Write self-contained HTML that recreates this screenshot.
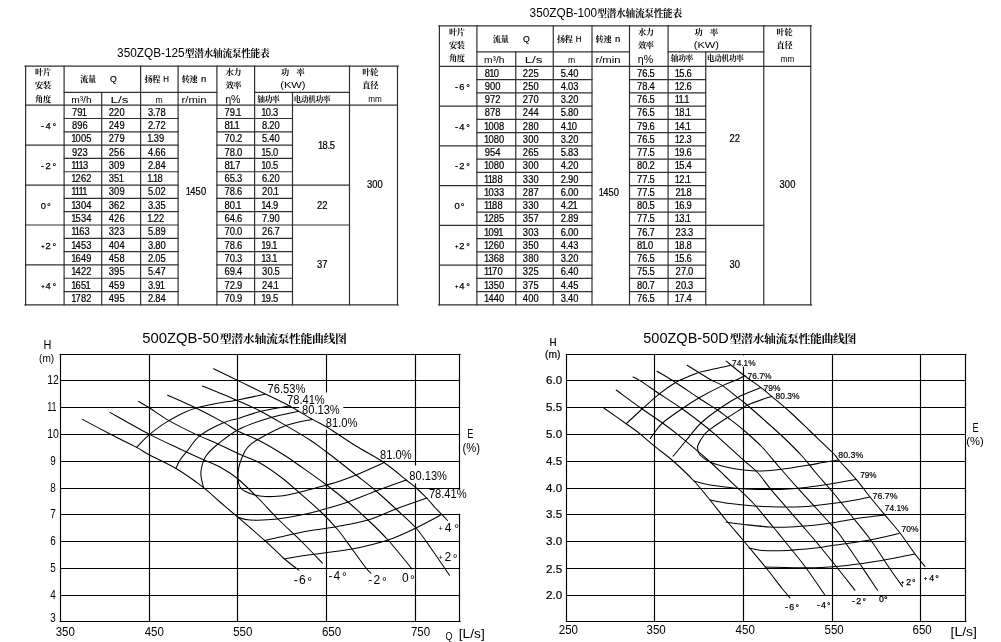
<!DOCTYPE html>
<html lang="zh"><head><meta charset="utf-8"><title>潜水轴流泵性能表</title>
<style>html,body{margin:0;padding:0;background:#fff}svg{display:block}</style></head>
<body><svg width="1001" height="642" viewBox="0 0 1001 642">
<rect width="1001" height="642" fill="#fff"/>
<g fill="none" stroke-linecap="round">
<path d="M24.9 66.2L398.2 66.2" stroke="#303030" stroke-width="1.2"/>
<path d="M24.9 304.9L398.2 304.9" stroke="#303030" stroke-width="1.2"/>
<path d="M25.6 66.2L25.6 304.9" stroke="#303030" stroke-width="1.2"/>
<path d="M397.5 66.2L397.5 304.9" stroke="#303030" stroke-width="1.2"/>
<path d="M64.1 66.2L64.1 304.9" stroke="#303030" stroke-width="1.2"/>
<path d="M140.6 66.2L140.6 304.9" stroke="#303030" stroke-width="1.2"/>
<path d="M178.1 66.2L178.1 304.9" stroke="#303030" stroke-width="1.2"/>
<path d="M216.9 66.2L216.9 304.9" stroke="#303030" stroke-width="1.2"/>
<path d="M254.6 66.2L254.6 304.9" stroke="#303030" stroke-width="1.2"/>
<path d="M349.5 66.2L349.5 304.9" stroke="#303030" stroke-width="1.2"/>
<path d="M101.7 92.3L101.7 304.9" stroke="#303030" stroke-width="1.2"/>
<path d="M292.5 92.3L292.5 304.9" stroke="#303030" stroke-width="1.2"/>
<path d="M64.1 92.3L216.9 92.3" stroke="#303030" stroke-width="1.2"/>
<path d="M254.6 92.3L349.5 92.3" stroke="#303030" stroke-width="1.2"/>
<path d="M25.6 105.2L397.5 105.2" stroke="#303030" stroke-width="1.2"/>
<path d="M64.1 118.51L178.1 118.51" stroke="#303030" stroke-width="1.2"/>
<path d="M216.9 118.51L292.5 118.51" stroke="#303030" stroke-width="1.2"/>
<path d="M64.1 131.83L178.1 131.83" stroke="#303030" stroke-width="1.2"/>
<path d="M216.9 131.83L292.5 131.83" stroke="#303030" stroke-width="1.2"/>
<path d="M64.1 145.14L178.1 145.14" stroke="#303030" stroke-width="1.2"/>
<path d="M216.9 145.14L292.5 145.14" stroke="#303030" stroke-width="1.2"/>
<path d="M25.6 145.14L64.1 145.14" stroke="#303030" stroke-width="1.2"/>
<path d="M64.1 158.45L178.1 158.45" stroke="#303030" stroke-width="1.2"/>
<path d="M216.9 158.45L292.5 158.45" stroke="#303030" stroke-width="1.2"/>
<path d="M64.1 171.77L178.1 171.77" stroke="#303030" stroke-width="1.2"/>
<path d="M216.9 171.77L292.5 171.77" stroke="#303030" stroke-width="1.2"/>
<path d="M64.1 185.08L178.1 185.08" stroke="#303030" stroke-width="1.2"/>
<path d="M216.9 185.08L292.5 185.08" stroke="#303030" stroke-width="1.2"/>
<path d="M25.6 185.08L64.1 185.08" stroke="#303030" stroke-width="1.2"/>
<path d="M292.5 185.08L349.5 185.08" stroke="#303030" stroke-width="1.2"/>
<path d="M64.1 198.39L178.1 198.39" stroke="#303030" stroke-width="1.2"/>
<path d="M216.9 198.39L292.5 198.39" stroke="#303030" stroke-width="1.2"/>
<path d="M64.1 211.71L178.1 211.71" stroke="#303030" stroke-width="1.2"/>
<path d="M216.9 211.71L292.5 211.71" stroke="#303030" stroke-width="1.2"/>
<path d="M64.1 225.02L178.1 225.02" stroke="#303030" stroke-width="1.2"/>
<path d="M216.9 225.02L292.5 225.02" stroke="#303030" stroke-width="1.2"/>
<path d="M25.6 225.02L64.1 225.02" stroke="#303030" stroke-width="1.2"/>
<path d="M292.5 225.02L349.5 225.02" stroke="#303030" stroke-width="1.2"/>
<path d="M64.1 238.33L178.1 238.33" stroke="#303030" stroke-width="1.2"/>
<path d="M216.9 238.33L292.5 238.33" stroke="#303030" stroke-width="1.2"/>
<path d="M64.1 251.65L178.1 251.65" stroke="#303030" stroke-width="1.2"/>
<path d="M216.9 251.65L292.5 251.65" stroke="#303030" stroke-width="1.2"/>
<path d="M64.1 264.96L178.1 264.96" stroke="#303030" stroke-width="1.2"/>
<path d="M216.9 264.96L292.5 264.96" stroke="#303030" stroke-width="1.2"/>
<path d="M25.6 264.96L64.1 264.96" stroke="#303030" stroke-width="1.2"/>
<path d="M64.1 278.27L178.1 278.27" stroke="#303030" stroke-width="1.2"/>
<path d="M216.9 278.27L292.5 278.27" stroke="#303030" stroke-width="1.2"/>
<path d="M64.1 291.59L178.1 291.59" stroke="#303030" stroke-width="1.2"/>
<path d="M216.9 291.59L292.5 291.59" stroke="#303030" stroke-width="1.2"/>
<path d="M438.7 25.85L811.45 25.85" stroke="#303030" stroke-width="1.2"/>
<path d="M438.7 304.9L811.45 304.9" stroke="#303030" stroke-width="1.2"/>
<path d="M439.4 25.85L439.4 304.9" stroke="#303030" stroke-width="1.2"/>
<path d="M810.75 25.85L810.75 304.9" stroke="#303030" stroke-width="1.2"/>
<path d="M476.9 25.85L476.9 304.9" stroke="#303030" stroke-width="1.2"/>
<path d="M553.25 25.85L553.25 304.9" stroke="#303030" stroke-width="1.2"/>
<path d="M592 25.85L592 304.9" stroke="#303030" stroke-width="1.2"/>
<path d="M629.5 25.85L629.5 304.9" stroke="#303030" stroke-width="1.2"/>
<path d="M668.1 25.85L668.1 304.9" stroke="#303030" stroke-width="1.2"/>
<path d="M763.75 25.85L763.75 304.9" stroke="#303030" stroke-width="1.2"/>
<path d="M515.75 51.9L515.75 304.9" stroke="#303030" stroke-width="1.2"/>
<path d="M705.75 51.9L705.75 304.9" stroke="#303030" stroke-width="1.2"/>
<path d="M476.9 51.9L629.5 51.9" stroke="#303030" stroke-width="1.2"/>
<path d="M668.1 51.9L763.75 51.9" stroke="#303030" stroke-width="1.2"/>
<path d="M439.4 66.3L810.75 66.3" stroke="#303030" stroke-width="1.2"/>
<path d="M476.9 79.56L592 79.56" stroke="#303030" stroke-width="1.2"/>
<path d="M629.5 79.56L705.75 79.56" stroke="#303030" stroke-width="1.2"/>
<path d="M476.9 92.81L592 92.81" stroke="#303030" stroke-width="1.2"/>
<path d="M629.5 92.81L705.75 92.81" stroke="#303030" stroke-width="1.2"/>
<path d="M476.9 106.07L592 106.07" stroke="#303030" stroke-width="1.2"/>
<path d="M629.5 106.07L705.75 106.07" stroke="#303030" stroke-width="1.2"/>
<path d="M439.4 106.07L476.9 106.07" stroke="#303030" stroke-width="1.2"/>
<path d="M476.9 119.32L592 119.32" stroke="#303030" stroke-width="1.2"/>
<path d="M629.5 119.32L705.75 119.32" stroke="#303030" stroke-width="1.2"/>
<path d="M476.9 132.58L592 132.58" stroke="#303030" stroke-width="1.2"/>
<path d="M629.5 132.58L705.75 132.58" stroke="#303030" stroke-width="1.2"/>
<path d="M476.9 145.83L592 145.83" stroke="#303030" stroke-width="1.2"/>
<path d="M629.5 145.83L705.75 145.83" stroke="#303030" stroke-width="1.2"/>
<path d="M439.4 145.83L476.9 145.83" stroke="#303030" stroke-width="1.2"/>
<path d="M476.9 159.09L592 159.09" stroke="#303030" stroke-width="1.2"/>
<path d="M629.5 159.09L705.75 159.09" stroke="#303030" stroke-width="1.2"/>
<path d="M476.9 172.34L592 172.34" stroke="#303030" stroke-width="1.2"/>
<path d="M629.5 172.34L705.75 172.34" stroke="#303030" stroke-width="1.2"/>
<path d="M476.9 185.6L592 185.6" stroke="#303030" stroke-width="1.2"/>
<path d="M629.5 185.6L705.75 185.6" stroke="#303030" stroke-width="1.2"/>
<path d="M439.4 185.6L476.9 185.6" stroke="#303030" stroke-width="1.2"/>
<path d="M476.9 198.86L592 198.86" stroke="#303030" stroke-width="1.2"/>
<path d="M629.5 198.86L705.75 198.86" stroke="#303030" stroke-width="1.2"/>
<path d="M476.9 212.11L592 212.11" stroke="#303030" stroke-width="1.2"/>
<path d="M629.5 212.11L705.75 212.11" stroke="#303030" stroke-width="1.2"/>
<path d="M476.9 225.37L592 225.37" stroke="#303030" stroke-width="1.2"/>
<path d="M629.5 225.37L705.75 225.37" stroke="#303030" stroke-width="1.2"/>
<path d="M439.4 225.37L476.9 225.37" stroke="#303030" stroke-width="1.2"/>
<path d="M705.75 225.37L763.75 225.37" stroke="#303030" stroke-width="1.2"/>
<path d="M476.9 238.62L592 238.62" stroke="#303030" stroke-width="1.2"/>
<path d="M629.5 238.62L705.75 238.62" stroke="#303030" stroke-width="1.2"/>
<path d="M476.9 251.88L592 251.88" stroke="#303030" stroke-width="1.2"/>
<path d="M629.5 251.88L705.75 251.88" stroke="#303030" stroke-width="1.2"/>
<path d="M476.9 265.13L592 265.13" stroke="#303030" stroke-width="1.2"/>
<path d="M629.5 265.13L705.75 265.13" stroke="#303030" stroke-width="1.2"/>
<path d="M439.4 265.13L476.9 265.13" stroke="#303030" stroke-width="1.2"/>
<path d="M476.9 278.39L592 278.39" stroke="#303030" stroke-width="1.2"/>
<path d="M629.5 278.39L705.75 278.39" stroke="#303030" stroke-width="1.2"/>
<path d="M476.9 291.64L592 291.64" stroke="#303030" stroke-width="1.2"/>
<path d="M629.5 291.64L705.75 291.64" stroke="#303030" stroke-width="1.2"/>
<path d="M60 354.5L460.2 354.5" stroke="#000" stroke-width="1.15"/>
<path d="M60 621.5L460.2 621.5" stroke="#000" stroke-width="1.15"/>
<path d="M60.5 354.4L60.5 621.5" stroke="#000" stroke-width="1.15"/>
<path d="M459.5 354.4L459.5 488.9" stroke="#000" stroke-width="1.15"/>
<path d="M459.5 514L459.5 621.5" stroke="#000" stroke-width="1.15"/>
<path d="M149.5 354.4L149.5 621.5" stroke="#000" stroke-width="1.15"/>
<path d="M237.5 354.4L237.5 621.5" stroke="#000" stroke-width="1.15"/>
<path d="M326.5 354.4L326.5 391.9" stroke="#000" stroke-width="1.15"/>
<path d="M326.5 430L326.5 621.5" stroke="#000" stroke-width="1.15"/>
<path d="M415.5 354.4L415.5 465" stroke="#000" stroke-width="1.15"/>
<path d="M415.5 483.75L415.5 621.5" stroke="#000" stroke-width="1.15"/>
<path d="M60.5 380.5L459.7 380.5" stroke="#000" stroke-width="1.15"/>
<path d="M60.5 407.5L298.75 407.5" stroke="#000" stroke-width="1.15"/>
<path d="M343.75 407.5L459.7 407.5" stroke="#000" stroke-width="1.15"/>
<path d="M60.5 434.5L459.7 434.5" stroke="#000" stroke-width="1.15"/>
<path d="M60.5 461.5L459.7 461.5" stroke="#000" stroke-width="1.15"/>
<path d="M60.5 488.5L459.7 488.5" stroke="#000" stroke-width="1.15"/>
<path d="M60.5 514.5L459.7 514.5" stroke="#000" stroke-width="1.15"/>
<path d="M60.5 541.5L459.7 541.5" stroke="#000" stroke-width="1.15"/>
<path d="M60.5 568.5L459.7 568.5" stroke="#000" stroke-width="1.15"/>
<path d="M60.5 595.5L459.7 595.5" stroke="#000" stroke-width="1.15"/>
<path d="M82.4 419.4C87.0 421.8 101.0 429.3 110.0 434.0C119.0 438.7 130.0 443.9 136.6 447.4C143.2 450.9 143.0 451.5 149.6 455.0C156.2 458.5 167.3 463.3 176.0 468.5C184.7 473.7 194.7 480.8 202.0 486.4C209.3 492.0 214.1 496.9 220.0 502.0C225.9 507.1 229.9 510.4 237.6 517.0C245.3 523.6 258.3 534.7 266.0 541.6C273.7 548.5 278.5 553.7 284.0 558.5C289.5 563.3 296.3 568.3 298.8 570.2" stroke="#000" stroke-width="1.05"/>
<path d="M110.0 412.4C116.6 416.1 137.9 428.3 149.6 434.4C161.3 440.5 170.9 444.7 180.0 449.0C189.1 453.3 197.3 457.0 204.0 460.0C210.7 463.0 214.3 463.8 220.0 467.0C225.7 470.2 231.7 473.8 238.0 479.0C244.3 484.2 251.3 491.3 258.0 498.0C264.7 504.7 270.7 511.7 278.0 519.0C285.3 526.3 294.6 534.6 302.0 542.0C309.4 549.4 319.1 559.7 322.5 563.2" stroke="#000" stroke-width="1.05"/>
<path d="M138.4 401.4C140.3 402.5 144.5 404.8 149.6 408.0C154.7 411.2 161.3 416.2 169.0 420.6C176.7 425.0 187.8 430.5 196.0 434.4C204.2 438.3 211.0 440.8 218.0 444.0C225.0 447.2 231.0 450.3 238.0 453.5C245.0 456.7 252.7 458.9 260.0 463.0C267.3 467.1 275.7 473.2 282.0 478.0C288.3 482.8 291.7 486.0 298.0 491.5C304.3 497.0 313.3 504.6 320.0 511.0C326.7 517.4 332.7 523.7 338.0 530.0C343.3 536.3 347.3 542.7 352.0 549.0C356.7 555.3 362.9 564.0 366.0 568.0C369.1 572.0 370.0 572.4 370.8 573.2" stroke="#000" stroke-width="1.05"/>
<path d="M167.6 395.2C172.3 397.3 186.6 403.4 196.0 408.0C205.4 412.6 217.1 418.8 224.0 422.6C230.9 426.4 231.6 427.9 237.6 431.0C243.6 434.1 252.3 437.0 260.0 441.0C267.7 445.0 277.3 450.8 284.0 455.0C290.7 459.2 292.9 461.0 300.0 466.0C307.1 471.0 318.6 479.0 326.6 485.0C334.6 491.0 341.1 496.2 348.0 502.0C354.9 507.8 361.3 513.7 368.0 520.0C374.7 526.3 381.3 532.7 388.0 540.0C394.7 547.3 404.0 559.2 408.0 564.0C412.0 568.8 411.1 568.2 411.8 569.0" stroke="#000" stroke-width="1.05"/>
<path d="M202.4 386.0C208.0 388.3 226.4 395.8 236.0 400.0C245.6 404.2 251.7 406.7 260.0 411.0C268.3 415.3 277.7 420.8 286.0 425.6C294.3 430.4 303.2 435.6 310.0 440.0C316.8 444.4 318.9 446.2 326.6 452.0C334.3 457.8 347.8 468.5 356.0 475.0C364.2 481.5 369.3 485.3 376.0 491.0C382.7 496.7 389.3 502.8 396.0 509.0C402.7 515.2 409.9 521.1 416.0 528.0C422.1 534.9 426.9 542.6 432.5 550.5C438.1 558.4 446.7 571.1 449.5 575.2" stroke="#000" stroke-width="1.05"/>
<path d="M213.6 368.8C217.6 370.7 229.0 376.2 237.6 380.4C246.2 384.6 256.3 389.4 265.0 393.8C273.7 398.1 282.1 402.0 290.0 406.2C297.9 410.5 306.2 415.9 312.5 419.4C318.8 422.9 320.2 423.1 327.5 427.5C334.8 431.9 346.6 440.2 356.0 446.0C365.4 451.8 375.6 456.8 384.0 462.5C392.4 468.2 401.0 475.8 406.2 480.0C411.5 484.2 412.3 484.6 415.6 487.5C418.9 490.4 423.0 494.2 426.2 497.5C429.5 500.8 432.4 504.6 435.0 507.5C437.6 510.4 439.9 512.4 442.0 514.6C444.1 516.8 446.6 519.5 447.5 520.5" stroke="#000" stroke-width="1.05"/>
<path d="M265.0 394.2C260.8 395.1 251.5 397.1 240.0 399.4C228.5 401.7 207.8 404.5 196.0 408.0C184.2 411.5 176.7 416.2 169.0 420.6C161.3 425.0 155.0 429.9 149.6 434.4C144.2 438.9 138.8 445.2 136.6 447.4" stroke="#000" stroke-width="1.05"/>
<path d="M284.5 559.0C288.4 558.3 296.8 556.7 308.0 555.0C319.2 553.3 338.7 551.5 352.0 549.0C365.3 546.5 377.3 543.5 388.0 540.0C398.7 536.5 407.0 532.3 416.0 528.0C425.0 523.7 437.7 516.7 442.0 514.4" stroke="#000" stroke-width="1.05"/>
<path d="M290.0 405.8C285.0 406.8 268.3 409.5 260.0 411.5C251.7 413.5 246.0 416.1 240.0 418.0C234.0 419.9 230.7 419.7 224.0 422.6C217.3 425.5 206.0 431.0 200.0 435.6C194.0 440.2 191.3 445.9 188.0 450.0C184.7 454.1 182.0 456.9 180.0 460.0C178.0 463.1 176.7 467.1 176.0 468.5" stroke="#000" stroke-width="1.05"/>
<path d="M264.5 540.5C267.1 539.9 272.8 538.6 280.0 537.0C287.2 535.4 298.3 532.8 308.0 531.0C317.7 529.2 328.0 528.2 338.0 526.4C348.0 524.6 358.3 522.9 368.0 520.0C377.7 517.1 386.2 512.7 396.0 509.0C405.8 505.3 421.8 499.8 427.0 498.0" stroke="#000" stroke-width="1.05"/>
<path d="M298.8 411.2C294.1 412.3 280.8 414.6 271.0 417.5C261.2 420.4 248.8 424.3 240.0 428.8C231.2 433.2 223.7 439.5 218.0 444.0C212.3 448.5 208.8 452.0 206.0 456.0C203.2 460.0 202.3 464.7 201.5 468.0C200.7 471.3 200.7 472.8 201.0 476.0C201.3 479.2 203.1 485.6 203.5 487.5" stroke="#000" stroke-width="1.05"/>
<path d="M237.6 517.0C239.7 517.5 243.3 519.7 250.0 520.0C256.7 520.3 268.7 520.0 278.0 519.0C287.3 518.0 299.0 515.4 306.0 514.0C313.0 512.6 313.0 512.4 320.0 510.4C327.0 508.4 338.7 505.2 348.0 502.0C357.3 498.8 366.3 494.7 376.0 491.0C385.7 487.3 401.2 481.8 406.2 480.0" stroke="#000" stroke-width="1.05"/>
<path d="M312.5 419.4C308.1 420.4 295.3 422.2 286.0 425.6C276.7 429.0 263.3 436.4 256.9 440.0C250.5 443.6 249.9 444.8 247.5 447.5C245.1 450.2 243.8 453.3 242.5 456.2C241.2 459.2 240.1 462.3 239.4 465.0C238.7 467.7 238.2 469.6 238.1 472.5C237.9 475.4 238.1 480.0 238.5 482.5C238.9 485.0 239.2 486.0 240.3 487.5C241.4 489.0 242.6 490.0 245.0 491.2C247.4 492.5 251.7 494.1 255.0 495.0C258.3 495.9 261.2 496.3 265.0 496.5C268.8 496.7 273.3 496.6 277.5 496.2C281.7 495.9 284.9 495.4 290.0 494.4C295.1 493.4 301.9 491.6 308.0 490.0C314.1 488.4 321.3 486.5 326.6 485.0C331.9 483.5 335.1 482.7 340.0 481.0C344.9 479.3 348.7 478.1 356.0 475.0C363.3 471.9 379.3 464.7 384.0 462.6" stroke="#000" stroke-width="1.05"/>
<path d="M566.25 354.5L966 354.5" stroke="#000" stroke-width="1.15"/>
<path d="M566.25 621.5L966 621.5" stroke="#000" stroke-width="1.15"/>
<path d="M566.5 354.4L566.5 621.5" stroke="#000" stroke-width="1.15"/>
<path d="M965.5 354.4L965.5 621.5" stroke="#000" stroke-width="1.15"/>
<path d="M654.5 354.4L654.5 621.5" stroke="#000" stroke-width="1.15"/>
<path d="M743.5 354.4L743.5 354.9" stroke="#000" stroke-width="1.15"/>
<path d="M743.5 367L743.5 621.5" stroke="#000" stroke-width="1.15"/>
<path d="M832.5 354.4L832.5 621.5" stroke="#000" stroke-width="1.15"/>
<path d="M920.5 354.4L920.5 621.5" stroke="#000" stroke-width="1.15"/>
<path d="M566.75 380.5L965.5 380.5" stroke="#000" stroke-width="1.15"/>
<path d="M566.75 407.5L965.5 407.5" stroke="#000" stroke-width="1.15"/>
<path d="M566.75 434.5L965.5 434.5" stroke="#000" stroke-width="1.15"/>
<path d="M566.75 461.5L965.5 461.5" stroke="#000" stroke-width="1.15"/>
<path d="M566.75 488.5L965.5 488.5" stroke="#000" stroke-width="1.15"/>
<path d="M566.75 514.5L965.5 514.5" stroke="#000" stroke-width="1.15"/>
<path d="M566.75 541.5L965.5 541.5" stroke="#000" stroke-width="1.15"/>
<path d="M566.75 568.5L965.5 568.5" stroke="#000" stroke-width="1.15"/>
<path d="M566.75 595.5L965.5 595.5" stroke="#000" stroke-width="1.15"/>
<path d="M603.8 408.0C607.5 410.6 620.2 419.5 626.2 423.8C632.3 428.0 635.3 430.0 640.0 433.8C644.7 437.5 649.2 441.9 654.5 446.2C659.8 450.6 665.4 454.2 672.0 460.0C678.6 465.8 687.7 474.3 694.0 481.0C700.3 487.7 704.7 493.5 710.0 500.0C715.3 506.5 720.4 513.2 726.0 520.0C731.6 526.8 737.2 533.2 743.8 541.0C750.2 548.8 758.5 558.5 765.0 566.5C771.5 574.5 778.3 583.8 782.5 589.0C786.7 594.2 788.8 596.3 790.0 597.8" stroke="#000" stroke-width="1.05"/>
<path d="M616.2 390.0C620.2 392.9 632.3 402.0 640.0 407.5C647.7 413.0 656.2 418.5 662.5 423.0C668.8 427.5 669.9 428.2 677.5 434.4C685.1 440.6 699.9 452.9 708.0 460.0C716.1 467.1 721.0 472.3 726.0 477.0C731.0 481.7 733.3 483.9 738.0 488.4C742.7 492.9 748.0 497.4 754.0 504.0C760.0 510.6 769.2 522.2 774.0 528.0C778.8 533.8 777.3 532.1 782.5 538.5C787.7 544.9 797.9 557.0 805.0 566.5C812.1 576.0 821.7 590.5 825.0 595.2" stroke="#000" stroke-width="1.05"/>
<path d="M633.0 377.0C634.2 377.6 635.6 377.8 640.0 380.6C644.4 383.4 652.4 389.1 659.4 393.8C666.4 398.4 675.1 403.9 682.0 408.8C688.9 413.6 695.5 418.7 701.0 423.0C706.5 427.3 707.9 428.2 715.0 434.4C722.1 440.6 736.2 453.6 743.4 460.0C750.6 466.4 753.6 468.3 758.0 473.0C762.4 477.7 765.3 482.7 770.0 488.4C774.7 494.1 780.0 500.1 786.0 507.0C792.0 513.9 800.8 523.9 806.0 530.0C811.2 536.1 812.5 537.4 817.5 543.5C822.5 549.6 830.0 558.7 836.2 566.5C842.5 574.3 851.9 586.3 855.0 590.2" stroke="#000" stroke-width="1.05"/>
<path d="M657.0 371.2C660.1 373.1 668.6 378.0 675.6 382.5C682.6 387.0 691.8 393.4 698.8 398.0C705.7 402.6 712.7 406.8 717.5 410.0C722.3 413.2 723.2 414.2 727.5 417.5C731.8 420.8 737.8 425.1 743.5 430.0C749.2 434.9 755.9 440.7 762.0 447.0C768.1 453.3 774.0 461.1 780.0 468.0C786.0 474.9 792.0 481.7 798.0 488.4C804.0 495.1 810.3 501.7 816.0 508.0C821.7 514.3 828.4 521.5 832.4 526.0C836.4 530.5 835.4 528.7 840.0 535.0C844.6 541.3 853.8 554.8 860.0 564.0C866.2 573.2 874.6 585.9 877.5 590.2" stroke="#000" stroke-width="1.05"/>
<path d="M687.2 365.2C689.2 366.5 694.8 370.0 698.8 372.5C702.8 375.0 707.3 377.8 711.2 380.0C715.2 382.2 718.1 382.7 722.5 385.6C726.9 388.5 734.0 394.8 737.5 397.5C741.0 400.2 739.4 398.6 743.5 402.0C747.6 405.4 755.6 412.3 762.0 418.0C768.4 423.7 775.3 429.7 782.0 436.0C788.7 442.3 796.3 449.8 802.0 456.0C807.7 462.2 810.9 467.0 816.0 473.0C821.1 479.0 826.9 485.2 832.6 492.0C838.3 498.8 843.8 506.2 850.0 514.0C856.2 521.8 863.8 530.5 870.0 539.0C876.2 547.5 882.1 557.3 887.5 565.2C892.9 573.2 900.0 583.0 902.5 586.5" stroke="#000" stroke-width="1.05"/>
<path d="M726.2 361.2C729.1 363.5 737.7 370.6 743.5 375.0C749.3 379.4 756.2 384.0 761.0 387.6C765.8 391.2 767.2 392.5 772.0 396.6C776.8 400.7 783.7 406.3 790.0 412.0C796.3 417.7 802.9 424.2 810.0 431.0C817.1 437.8 827.7 447.7 832.5 452.5C837.3 457.3 834.8 455.5 838.8 460.0C842.7 464.5 851.0 473.2 856.2 479.4C861.5 485.6 865.3 491.2 870.0 497.0C874.7 502.8 879.4 508.4 884.4 514.4C889.4 520.4 894.9 526.4 900.0 533.0C905.1 539.6 910.8 548.4 915.0 554.0C919.2 559.6 923.3 564.4 925.0 566.5" stroke="#000" stroke-width="1.05"/>
<path d="M730.0 365.6C727.5 366.1 720.2 367.6 715.0 368.8C709.8 369.9 703.3 371.1 698.8 372.5C694.2 373.9 691.4 375.3 687.5 377.0C683.6 378.7 680.3 379.7 675.6 382.5C670.9 385.3 665.3 389.0 659.4 393.8C653.5 398.5 645.5 406.0 640.0 411.0C634.5 416.0 628.5 421.6 626.2 423.8" stroke="#000" stroke-width="1.05"/>
<path d="M726.0 522.0C728.9 522.4 736.1 523.6 743.4 524.4C750.7 525.2 762.2 526.6 770.0 527.0C777.8 527.4 782.3 527.3 790.0 527.0C797.7 526.7 808.9 525.7 816.0 525.0C823.1 524.3 825.2 524.0 832.5 522.8C839.8 521.6 851.2 519.3 860.0 518.0C868.8 516.7 880.8 515.5 885.0 515.0" stroke="#000" stroke-width="1.05"/>
<path d="M745.0 375.6C743.8 376.2 741.2 377.7 737.5 379.4C733.8 381.1 729.0 382.5 722.5 385.6C716.0 388.7 705.5 394.1 698.8 398.0C692.0 401.9 688.0 404.6 682.0 408.8C676.0 412.9 667.1 419.0 662.5 423.0C657.9 427.0 656.5 430.2 654.5 432.8C652.5 435.4 651.0 437.6 650.3 438.5" stroke="#000" stroke-width="1.05"/>
<path d="M710.0 500.0C713.3 500.6 722.7 502.6 730.0 503.6C737.3 504.6 745.7 505.4 754.0 506.0C762.3 506.6 771.3 506.9 780.0 507.0C788.7 507.1 797.2 507.2 806.0 506.6C814.8 506.0 825.2 504.4 832.5 503.5C839.8 502.6 843.8 502.1 850.0 501.0C856.2 499.9 866.7 497.7 870.0 497.0" stroke="#000" stroke-width="1.05"/>
<path d="M761.0 387.6C757.1 389.2 744.8 393.8 737.5 397.5C730.2 401.2 723.6 405.8 717.5 410.0C711.4 414.2 705.4 418.9 701.0 423.0C696.6 427.1 694.5 430.2 691.0 434.4C687.5 438.6 683.0 444.4 680.0 448.0C677.0 451.6 674.2 454.9 673.0 456.2" stroke="#000" stroke-width="1.05"/>
<path d="M694.0 481.0C696.7 481.7 702.7 483.8 710.0 485.0C717.3 486.2 730.0 487.7 738.0 488.4C746.0 489.1 751.0 489.2 758.0 489.4C765.0 489.6 772.0 489.7 780.0 489.4C788.0 489.1 797.2 488.4 806.0 487.4C814.8 486.4 824.3 484.9 832.6 483.6C840.9 482.3 852.1 480.1 856.0 479.4" stroke="#000" stroke-width="1.05"/>
<path d="M772.0 396.6C770.8 396.9 769.1 397.1 765.0 398.5C760.9 399.9 751.1 403.5 747.5 405.0C743.9 406.5 746.8 405.4 743.5 407.5C740.2 409.6 733.1 413.9 727.5 417.5C721.9 421.1 713.9 426.5 710.0 429.4C706.1 432.3 705.8 432.7 704.0 435.0C702.2 437.3 700.1 440.8 699.0 443.0C697.9 445.2 697.3 446.0 697.5 448.0C697.7 450.0 697.9 452.7 700.0 455.0C702.1 457.3 705.7 460.0 710.0 462.0C714.3 464.0 720.4 465.7 726.0 467.0C731.6 468.3 737.4 469.3 743.4 470.0C749.4 470.7 755.9 471.1 762.0 471.0C768.1 470.9 772.7 470.5 780.0 469.6C787.3 468.7 798.3 466.9 806.0 465.6C813.7 464.3 820.5 462.9 826.0 462.0C831.5 461.1 836.6 460.3 838.8 460.0" stroke="#000" stroke-width="1.05"/>
<path d="M749.0 548.0C751.2 548.4 755.6 550.1 762.0 550.5C768.4 550.9 778.5 550.9 787.5 550.5C796.5 550.1 808.5 548.8 816.0 548.0C823.5 547.2 823.5 546.8 832.5 545.5C841.5 544.2 858.9 542.0 870.0 540.0C881.1 538.0 894.2 534.7 899.0 533.6" stroke="#000" stroke-width="1.05"/>
<path d="M765.0 567.0C771.7 567.1 793.1 567.8 805.0 567.8C816.9 567.7 824.6 567.5 836.2 566.5C847.9 565.5 861.9 563.6 875.0 561.5C888.1 559.4 908.3 555.2 915.0 554.0" stroke="#000" stroke-width="1.05"/>
</g>
<g>
<text x="117.10" y="56.70" font-family='"Liberation Sans", "Noto Sans CJK SC", sans-serif' font-size="12.6" textLength="67.50" lengthAdjust="spacingAndGlyphs" fill="#000">350ZQB-125</text>
<text x="184.80" y="57.20" font-family='"Liberation Serif", "Noto Serif CJK SC", serif' font-size="9.7" font-weight="700" letter-spacing="-0.29" fill="#000">型潜水轴流泵性能表</text>
<text x="35.10" y="75.30" font-family='"Liberation Serif", "Noto Serif CJK SC", serif' font-size="8.2" font-weight="700" letter-spacing="-0.40" fill="#000">叶片</text>
<text x="35.10" y="88.40" font-family='"Liberation Serif", "Noto Serif CJK SC", serif' font-size="8.2" font-weight="700" letter-spacing="-0.40" fill="#000">安装</text>
<text x="35.10" y="101.70" font-family='"Liberation Serif", "Noto Serif CJK SC", serif' font-size="8.2" font-weight="700" letter-spacing="-0.40" fill="#000">角度</text>
<text x="79.90" y="82.00" font-family='"Liberation Serif", "Noto Serif CJK SC", serif' font-size="8.2" font-weight="700" letter-spacing="-0.20" fill="#000">流量</text>
<text x="110.10" y="82.10" font-family='"Liberation Sans", "Noto Sans CJK SC", sans-serif' font-size="9" textLength="6.70" lengthAdjust="spacingAndGlyphs" fill="#000" stroke="#000" stroke-width="0.2">Q</text>
<text x="144.40" y="82.00" font-family='"Liberation Serif", "Noto Serif CJK SC", serif' font-size="8.2" font-weight="700" letter-spacing="-0.40" fill="#000">扬程</text>
<text x="163.20" y="82.20" font-family='"Liberation Sans", "Noto Sans CJK SC", sans-serif' font-size="9.6" textLength="5.70" lengthAdjust="spacingAndGlyphs" fill="#000" stroke="#000" stroke-width="0.2">H</text>
<text x="181.70" y="82.00" font-family='"Liberation Serif", "Noto Serif CJK SC", serif' font-size="8.2" font-weight="700" letter-spacing="-0.40" fill="#000">转速</text>
<text x="201.10" y="82.20" font-family='"Liberation Sans", "Noto Sans CJK SC", sans-serif' font-size="9.6" textLength="5.30" lengthAdjust="spacingAndGlyphs" fill="#000" stroke="#000" stroke-width="0.2">n</text>
<text x="71.20" y="103.00" font-family='"Liberation Sans", "Noto Sans CJK SC", sans-serif' font-size="9.6" textLength="20.40" lengthAdjust="spacingAndGlyphs" fill="#000">m³/h</text>
<text x="110.60" y="103.00" font-family='"Liberation Sans", "Noto Sans CJK SC", sans-serif' font-size="9.6" textLength="17.90" lengthAdjust="spacingAndGlyphs" fill="#000">L/s</text>
<text x="155.40" y="103.00" font-family='"Liberation Sans", "Noto Sans CJK SC", sans-serif' font-size="9.2" textLength="7.20" lengthAdjust="spacingAndGlyphs" fill="#000">m</text>
<text x="181.50" y="103.00" font-family='"Liberation Sans", "Noto Sans CJK SC", sans-serif' font-size="9.6" textLength="25.10" lengthAdjust="spacingAndGlyphs" fill="#000">r/min</text>
<text x="225.40" y="75.30" font-family='"Liberation Serif", "Noto Serif CJK SC", serif' font-size="8.2" font-weight="700" letter-spacing="-0.40" fill="#000">水力</text>
<text x="225.40" y="88.40" font-family='"Liberation Serif", "Noto Serif CJK SC", serif' font-size="8.2" font-weight="700" letter-spacing="-0.40" fill="#000">效率</text>
<text x="225.20" y="103.00" font-family='"Liberation Sans", "Noto Sans CJK SC", sans-serif' font-size="10" textLength="15.40" lengthAdjust="spacingAndGlyphs" fill="#000">η%</text>
<text x="281.10" y="75.30" font-family='"Liberation Serif", "Noto Serif CJK SC", serif' font-size="8.2" font-weight="700" letter-spacing="0.00" fill="#000">功</text>
<text x="296.40" y="75.30" font-family='"Liberation Serif", "Noto Serif CJK SC", serif' font-size="8.2" font-weight="700" letter-spacing="0.00" fill="#000">率</text>
<text x="280.20" y="88.10" font-family='"Liberation Sans", "Noto Sans CJK SC", sans-serif' font-size="8.2" textLength="25.40" lengthAdjust="spacingAndGlyphs" fill="#000">(KW)</text>
<text x="257.20" y="101.70" font-family='"Liberation Serif", "Noto Serif CJK SC", serif' font-size="7.7" font-weight="700" letter-spacing="-0.25" fill="#000">轴功率</text>
<text x="293.70" y="101.70" font-family='"Liberation Serif", "Noto Serif CJK SC", serif' font-size="7.5" font-weight="700" letter-spacing="-0.18" fill="#000">电动机功率</text>
<text x="362.30" y="75.30" font-family='"Liberation Serif", "Noto Serif CJK SC", serif' font-size="8.2" font-weight="700" letter-spacing="-0.20" fill="#000">叶轮</text>
<text x="362.30" y="88.40" font-family='"Liberation Serif", "Noto Serif CJK SC", serif' font-size="8.2" font-weight="700" letter-spacing="-0.20" fill="#000">直径</text>
<text x="368.30" y="102.40" font-family='"Liberation Sans", "Noto Sans CJK SC", sans-serif' font-size="8.4" textLength="13.50" lengthAdjust="spacingAndGlyphs" fill="#000">mm</text>
<text transform="translate(71.90 115.56) scale(0.92 1)" x="0.00 5.76 10.71" y="0" font-family='"Liberation Sans", "Noto Sans CJK SC", sans-serif' font-size="10.2" fill="#000" stroke="#000" stroke-width="0.22">791</text>
<text transform="translate(108.80 115.56) scale(0.92 1)" x="0.00 5.76 11.52" y="0" font-family='"Liberation Sans", "Noto Sans CJK SC", sans-serif' font-size="10.2" fill="#000" stroke="#000" stroke-width="0.22">220</text>
<text transform="translate(148.10 115.56) scale(0.92 1)" x="0.00 5.38 7.83 13.59" y="0" font-family='"Liberation Sans", "Noto Sans CJK SC", sans-serif' font-size="10.2" fill="#000" stroke="#000" stroke-width="0.22">3.78</text>
<text transform="translate(224.40 115.56) scale(0.92 1)" x="0.00 5.76 11.14 12.77" y="0" font-family='"Liberation Sans", "Noto Sans CJK SC", sans-serif' font-size="10.2" fill="#000" stroke="#000" stroke-width="0.22">79.1</text>
<text transform="translate(262.10 115.56) scale(0.92 1)" x="-0.82 4.02 9.40 11.85" y="0" font-family='"Liberation Sans", "Noto Sans CJK SC", sans-serif' font-size="10.2" fill="#000" stroke="#000" stroke-width="0.22">10.3</text>
<text transform="translate(71.90 128.87) scale(0.92 1)" x="0.00 5.76 11.52" y="0" font-family='"Liberation Sans", "Noto Sans CJK SC", sans-serif' font-size="10.2" fill="#000" stroke="#000" stroke-width="0.22">896</text>
<text transform="translate(108.80 128.87) scale(0.92 1)" x="0.00 5.76 11.52" y="0" font-family='"Liberation Sans", "Noto Sans CJK SC", sans-serif' font-size="10.2" fill="#000" stroke="#000" stroke-width="0.22">249</text>
<text transform="translate(148.10 128.87) scale(0.92 1)" x="0.00 5.38 7.83 13.59" y="0" font-family='"Liberation Sans", "Noto Sans CJK SC", sans-serif' font-size="10.2" fill="#000" stroke="#000" stroke-width="0.22">2.72</text>
<text transform="translate(224.40 128.87) scale(0.92 1)" x="0.00 4.95 9.40 11.03" y="0" font-family='"Liberation Sans", "Noto Sans CJK SC", sans-serif' font-size="10.2" fill="#000" stroke="#000" stroke-width="0.22">81.1</text>
<text transform="translate(262.10 128.87) scale(0.92 1)" x="0.00 5.38 7.83 13.59" y="0" font-family='"Liberation Sans", "Noto Sans CJK SC", sans-serif' font-size="10.2" fill="#000" stroke="#000" stroke-width="0.22">8.20</text>
<text transform="translate(71.90 142.18) scale(0.92 1)" x="-0.82 4.02 9.78 15.54" y="0" font-family='"Liberation Sans", "Noto Sans CJK SC", sans-serif' font-size="10.2" fill="#000" stroke="#000" stroke-width="0.22">1005</text>
<text transform="translate(108.80 142.18) scale(0.92 1)" x="0.00 5.76 11.52" y="0" font-family='"Liberation Sans", "Noto Sans CJK SC", sans-serif' font-size="10.2" fill="#000" stroke="#000" stroke-width="0.22">279</text>
<text transform="translate(148.10 142.18) scale(0.92 1)" x="-0.82 3.64 6.09 11.85" y="0" font-family='"Liberation Sans", "Noto Sans CJK SC", sans-serif' font-size="10.2" fill="#000" stroke="#000" stroke-width="0.22">1.39</text>
<text transform="translate(224.40 142.18) scale(0.92 1)" x="0.00 5.76 11.14 13.59" y="0" font-family='"Liberation Sans", "Noto Sans CJK SC", sans-serif' font-size="10.2" fill="#000" stroke="#000" stroke-width="0.22">70.2</text>
<text transform="translate(262.10 142.18) scale(0.92 1)" x="0.00 5.38 7.83 13.59" y="0" font-family='"Liberation Sans", "Noto Sans CJK SC", sans-serif' font-size="10.2" fill="#000" stroke="#000" stroke-width="0.22">5.40</text>
<text transform="translate(71.90 155.50) scale(0.92 1)" x="0.00 5.76 11.52" y="0" font-family='"Liberation Sans", "Noto Sans CJK SC", sans-serif' font-size="10.2" fill="#000" stroke="#000" stroke-width="0.22">923</text>
<text transform="translate(108.80 155.50) scale(0.92 1)" x="0.00 5.76 11.52" y="0" font-family='"Liberation Sans", "Noto Sans CJK SC", sans-serif' font-size="10.2" fill="#000" stroke="#000" stroke-width="0.22">256</text>
<text transform="translate(148.10 155.50) scale(0.92 1)" x="0.00 5.38 7.83 13.59" y="0" font-family='"Liberation Sans", "Noto Sans CJK SC", sans-serif' font-size="10.2" fill="#000" stroke="#000" stroke-width="0.22">4.66</text>
<text transform="translate(224.40 155.50) scale(0.92 1)" x="0.00 5.76 11.14 13.59" y="0" font-family='"Liberation Sans", "Noto Sans CJK SC", sans-serif' font-size="10.2" fill="#000" stroke="#000" stroke-width="0.22">78.0</text>
<text transform="translate(262.10 155.50) scale(0.92 1)" x="-0.82 4.02 9.40 11.85" y="0" font-family='"Liberation Sans", "Noto Sans CJK SC", sans-serif' font-size="10.2" fill="#000" stroke="#000" stroke-width="0.22">15.0</text>
<text transform="translate(71.90 168.81) scale(0.92 1)" x="-0.82 3.21 7.23 12.07" y="0" font-family='"Liberation Sans", "Noto Sans CJK SC", sans-serif' font-size="10.2" fill="#000" stroke="#000" stroke-width="0.22">1113</text>
<text transform="translate(108.80 168.81) scale(0.92 1)" x="0.00 5.76 11.52" y="0" font-family='"Liberation Sans", "Noto Sans CJK SC", sans-serif' font-size="10.2" fill="#000" stroke="#000" stroke-width="0.22">309</text>
<text transform="translate(148.10 168.81) scale(0.92 1)" x="0.00 5.38 7.83 13.59" y="0" font-family='"Liberation Sans", "Noto Sans CJK SC", sans-serif' font-size="10.2" fill="#000" stroke="#000" stroke-width="0.22">2.84</text>
<text transform="translate(224.40 168.81) scale(0.92 1)" x="0.00 4.95 9.40 11.85" y="0" font-family='"Liberation Sans", "Noto Sans CJK SC", sans-serif' font-size="10.2" fill="#000" stroke="#000" stroke-width="0.22">81.7</text>
<text transform="translate(262.10 168.81) scale(0.92 1)" x="-0.82 4.02 9.40 11.85" y="0" font-family='"Liberation Sans", "Noto Sans CJK SC", sans-serif' font-size="10.2" fill="#000" stroke="#000" stroke-width="0.22">10.5</text>
<text transform="translate(71.90 182.12) scale(0.92 1)" x="-0.82 4.02 9.78 15.54" y="0" font-family='"Liberation Sans", "Noto Sans CJK SC", sans-serif' font-size="10.2" fill="#000" stroke="#000" stroke-width="0.22">1262</text>
<text transform="translate(108.80 182.12) scale(0.92 1)" x="0.00 5.76 10.71" y="0" font-family='"Liberation Sans", "Noto Sans CJK SC", sans-serif' font-size="10.2" fill="#000" stroke="#000" stroke-width="0.22">351</text>
<text transform="translate(148.10 182.12) scale(0.92 1)" x="-0.82 3.64 5.27 10.11" y="0" font-family='"Liberation Sans", "Noto Sans CJK SC", sans-serif' font-size="10.2" fill="#000" stroke="#000" stroke-width="0.22">1.18</text>
<text transform="translate(224.40 182.12) scale(0.92 1)" x="0.00 5.76 11.14 13.59" y="0" font-family='"Liberation Sans", "Noto Sans CJK SC", sans-serif' font-size="10.2" fill="#000" stroke="#000" stroke-width="0.22">65.3</text>
<text transform="translate(262.10 182.12) scale(0.92 1)" x="0.00 5.38 7.83 13.59" y="0" font-family='"Liberation Sans", "Noto Sans CJK SC", sans-serif' font-size="10.2" fill="#000" stroke="#000" stroke-width="0.22">6.20</text>
<text transform="translate(71.90 195.44) scale(0.92 1)" x="-0.82 3.21 7.23 11.25" y="0" font-family='"Liberation Sans", "Noto Sans CJK SC", sans-serif' font-size="10.2" fill="#000" stroke="#000" stroke-width="0.22">1111</text>
<text transform="translate(108.80 195.44) scale(0.92 1)" x="0.00 5.76 11.52" y="0" font-family='"Liberation Sans", "Noto Sans CJK SC", sans-serif' font-size="10.2" fill="#000" stroke="#000" stroke-width="0.22">309</text>
<text transform="translate(148.10 195.44) scale(0.92 1)" x="0.00 5.38 7.83 13.59" y="0" font-family='"Liberation Sans", "Noto Sans CJK SC", sans-serif' font-size="10.2" fill="#000" stroke="#000" stroke-width="0.22">5.02</text>
<text transform="translate(224.40 195.44) scale(0.92 1)" x="0.00 5.76 11.14 13.59" y="0" font-family='"Liberation Sans", "Noto Sans CJK SC", sans-serif' font-size="10.2" fill="#000" stroke="#000" stroke-width="0.22">78.6</text>
<text transform="translate(262.10 195.44) scale(0.92 1)" x="0.00 5.76 11.14 12.77" y="0" font-family='"Liberation Sans", "Noto Sans CJK SC", sans-serif' font-size="10.2" fill="#000" stroke="#000" stroke-width="0.22">20.1</text>
<text transform="translate(71.90 208.75) scale(0.92 1)" x="-0.82 4.02 9.78 15.54" y="0" font-family='"Liberation Sans", "Noto Sans CJK SC", sans-serif' font-size="10.2" fill="#000" stroke="#000" stroke-width="0.22">1304</text>
<text transform="translate(108.80 208.75) scale(0.92 1)" x="0.00 5.76 11.52" y="0" font-family='"Liberation Sans", "Noto Sans CJK SC", sans-serif' font-size="10.2" fill="#000" stroke="#000" stroke-width="0.22">362</text>
<text transform="translate(148.10 208.75) scale(0.92 1)" x="0.00 5.38 7.83 13.59" y="0" font-family='"Liberation Sans", "Noto Sans CJK SC", sans-serif' font-size="10.2" fill="#000" stroke="#000" stroke-width="0.22">3.35</text>
<text transform="translate(224.40 208.75) scale(0.92 1)" x="0.00 5.76 11.14 12.77" y="0" font-family='"Liberation Sans", "Noto Sans CJK SC", sans-serif' font-size="10.2" fill="#000" stroke="#000" stroke-width="0.22">80.1</text>
<text transform="translate(262.10 208.75) scale(0.92 1)" x="-0.82 4.02 9.40 11.85" y="0" font-family='"Liberation Sans", "Noto Sans CJK SC", sans-serif' font-size="10.2" fill="#000" stroke="#000" stroke-width="0.22">14.9</text>
<text transform="translate(71.90 222.06) scale(0.92 1)" x="-0.82 4.02 9.78 15.54" y="0" font-family='"Liberation Sans", "Noto Sans CJK SC", sans-serif' font-size="10.2" fill="#000" stroke="#000" stroke-width="0.22">1534</text>
<text transform="translate(108.80 222.06) scale(0.92 1)" x="0.00 5.76 11.52" y="0" font-family='"Liberation Sans", "Noto Sans CJK SC", sans-serif' font-size="10.2" fill="#000" stroke="#000" stroke-width="0.22">426</text>
<text transform="translate(148.10 222.06) scale(0.92 1)" x="-0.82 3.64 6.09 11.85" y="0" font-family='"Liberation Sans", "Noto Sans CJK SC", sans-serif' font-size="10.2" fill="#000" stroke="#000" stroke-width="0.22">1.22</text>
<text transform="translate(224.40 222.06) scale(0.92 1)" x="0.00 5.76 11.14 13.59" y="0" font-family='"Liberation Sans", "Noto Sans CJK SC", sans-serif' font-size="10.2" fill="#000" stroke="#000" stroke-width="0.22">64.6</text>
<text transform="translate(262.10 222.06) scale(0.92 1)" x="0.00 5.38 7.83 13.59" y="0" font-family='"Liberation Sans", "Noto Sans CJK SC", sans-serif' font-size="10.2" fill="#000" stroke="#000" stroke-width="0.22">7.90</text>
<text transform="translate(71.90 235.38) scale(0.92 1)" x="-0.82 3.21 8.04 13.80" y="0" font-family='"Liberation Sans", "Noto Sans CJK SC", sans-serif' font-size="10.2" fill="#000" stroke="#000" stroke-width="0.22">1163</text>
<text transform="translate(108.80 235.38) scale(0.92 1)" x="0.00 5.76 11.52" y="0" font-family='"Liberation Sans", "Noto Sans CJK SC", sans-serif' font-size="10.2" fill="#000" stroke="#000" stroke-width="0.22">323</text>
<text transform="translate(148.10 235.38) scale(0.92 1)" x="0.00 5.38 7.83 13.59" y="0" font-family='"Liberation Sans", "Noto Sans CJK SC", sans-serif' font-size="10.2" fill="#000" stroke="#000" stroke-width="0.22">5.89</text>
<text transform="translate(224.40 235.38) scale(0.92 1)" x="0.00 5.76 11.14 13.59" y="0" font-family='"Liberation Sans", "Noto Sans CJK SC", sans-serif' font-size="10.2" fill="#000" stroke="#000" stroke-width="0.22">70.0</text>
<text transform="translate(262.10 235.38) scale(0.92 1)" x="0.00 5.76 11.14 13.59" y="0" font-family='"Liberation Sans", "Noto Sans CJK SC", sans-serif' font-size="10.2" fill="#000" stroke="#000" stroke-width="0.22">26.7</text>
<text transform="translate(71.90 248.69) scale(0.92 1)" x="-0.82 4.02 9.78 15.54" y="0" font-family='"Liberation Sans", "Noto Sans CJK SC", sans-serif' font-size="10.2" fill="#000" stroke="#000" stroke-width="0.22">1453</text>
<text transform="translate(108.80 248.69) scale(0.92 1)" x="0.00 5.76 11.52" y="0" font-family='"Liberation Sans", "Noto Sans CJK SC", sans-serif' font-size="10.2" fill="#000" stroke="#000" stroke-width="0.22">404</text>
<text transform="translate(148.10 248.69) scale(0.92 1)" x="0.00 5.38 7.83 13.59" y="0" font-family='"Liberation Sans", "Noto Sans CJK SC", sans-serif' font-size="10.2" fill="#000" stroke="#000" stroke-width="0.22">3.80</text>
<text transform="translate(224.40 248.69) scale(0.92 1)" x="0.00 5.76 11.14 13.59" y="0" font-family='"Liberation Sans", "Noto Sans CJK SC", sans-serif' font-size="10.2" fill="#000" stroke="#000" stroke-width="0.22">78.6</text>
<text transform="translate(262.10 248.69) scale(0.92 1)" x="-0.82 4.02 9.40 11.03" y="0" font-family='"Liberation Sans", "Noto Sans CJK SC", sans-serif' font-size="10.2" fill="#000" stroke="#000" stroke-width="0.22">19.1</text>
<text transform="translate(71.90 262.00) scale(0.92 1)" x="-0.82 4.02 9.78 15.54" y="0" font-family='"Liberation Sans", "Noto Sans CJK SC", sans-serif' font-size="10.2" fill="#000" stroke="#000" stroke-width="0.22">1649</text>
<text transform="translate(108.80 262.00) scale(0.92 1)" x="0.00 5.76 11.52" y="0" font-family='"Liberation Sans", "Noto Sans CJK SC", sans-serif' font-size="10.2" fill="#000" stroke="#000" stroke-width="0.22">458</text>
<text transform="translate(148.10 262.00) scale(0.92 1)" x="0.00 5.38 7.83 13.59" y="0" font-family='"Liberation Sans", "Noto Sans CJK SC", sans-serif' font-size="10.2" fill="#000" stroke="#000" stroke-width="0.22">2.05</text>
<text transform="translate(224.40 262.00) scale(0.92 1)" x="0.00 5.76 11.14 13.59" y="0" font-family='"Liberation Sans", "Noto Sans CJK SC", sans-serif' font-size="10.2" fill="#000" stroke="#000" stroke-width="0.22">70.3</text>
<text transform="translate(262.10 262.00) scale(0.92 1)" x="-0.82 4.02 9.40 11.03" y="0" font-family='"Liberation Sans", "Noto Sans CJK SC", sans-serif' font-size="10.2" fill="#000" stroke="#000" stroke-width="0.22">13.1</text>
<text transform="translate(71.90 275.32) scale(0.92 1)" x="-0.82 4.02 9.78 15.54" y="0" font-family='"Liberation Sans", "Noto Sans CJK SC", sans-serif' font-size="10.2" fill="#000" stroke="#000" stroke-width="0.22">1422</text>
<text transform="translate(108.80 275.32) scale(0.92 1)" x="0.00 5.76 11.52" y="0" font-family='"Liberation Sans", "Noto Sans CJK SC", sans-serif' font-size="10.2" fill="#000" stroke="#000" stroke-width="0.22">395</text>
<text transform="translate(148.10 275.32) scale(0.92 1)" x="0.00 5.38 7.83 13.59" y="0" font-family='"Liberation Sans", "Noto Sans CJK SC", sans-serif' font-size="10.2" fill="#000" stroke="#000" stroke-width="0.22">5.47</text>
<text transform="translate(224.40 275.32) scale(0.92 1)" x="0.00 5.76 11.14 13.59" y="0" font-family='"Liberation Sans", "Noto Sans CJK SC", sans-serif' font-size="10.2" fill="#000" stroke="#000" stroke-width="0.22">69.4</text>
<text transform="translate(262.10 275.32) scale(0.92 1)" x="0.00 5.76 11.14 13.59" y="0" font-family='"Liberation Sans", "Noto Sans CJK SC", sans-serif' font-size="10.2" fill="#000" stroke="#000" stroke-width="0.22">30.5</text>
<text transform="translate(71.90 288.63) scale(0.92 1)" x="-0.82 4.02 9.78 14.73" y="0" font-family='"Liberation Sans", "Noto Sans CJK SC", sans-serif' font-size="10.2" fill="#000" stroke="#000" stroke-width="0.22">1651</text>
<text transform="translate(108.80 288.63) scale(0.92 1)" x="0.00 5.76 11.52" y="0" font-family='"Liberation Sans", "Noto Sans CJK SC", sans-serif' font-size="10.2" fill="#000" stroke="#000" stroke-width="0.22">459</text>
<text transform="translate(148.10 288.63) scale(0.92 1)" x="0.00 5.38 7.83 12.77" y="0" font-family='"Liberation Sans", "Noto Sans CJK SC", sans-serif' font-size="10.2" fill="#000" stroke="#000" stroke-width="0.22">3.91</text>
<text transform="translate(224.40 288.63) scale(0.92 1)" x="0.00 5.76 11.14 13.59" y="0" font-family='"Liberation Sans", "Noto Sans CJK SC", sans-serif' font-size="10.2" fill="#000" stroke="#000" stroke-width="0.22">72.9</text>
<text transform="translate(262.10 288.63) scale(0.92 1)" x="0.00 5.76 11.14 12.77" y="0" font-family='"Liberation Sans", "Noto Sans CJK SC", sans-serif' font-size="10.2" fill="#000" stroke="#000" stroke-width="0.22">24.1</text>
<text transform="translate(71.90 301.94) scale(0.92 1)" x="-0.82 4.02 9.78 15.54" y="0" font-family='"Liberation Sans", "Noto Sans CJK SC", sans-serif' font-size="10.2" fill="#000" stroke="#000" stroke-width="0.22">1782</text>
<text transform="translate(108.80 301.94) scale(0.92 1)" x="0.00 5.76 11.52" y="0" font-family='"Liberation Sans", "Noto Sans CJK SC", sans-serif' font-size="10.2" fill="#000" stroke="#000" stroke-width="0.22">495</text>
<text transform="translate(148.10 301.94) scale(0.92 1)" x="0.00 5.38 7.83 13.59" y="0" font-family='"Liberation Sans", "Noto Sans CJK SC", sans-serif' font-size="10.2" fill="#000" stroke="#000" stroke-width="0.22">2.84</text>
<text transform="translate(224.40 301.94) scale(0.92 1)" x="0.00 5.76 11.14 13.59" y="0" font-family='"Liberation Sans", "Noto Sans CJK SC", sans-serif' font-size="10.2" fill="#000" stroke="#000" stroke-width="0.22">70.9</text>
<text transform="translate(262.10 301.94) scale(0.92 1)" x="-0.82 4.02 9.40 11.85" y="0" font-family='"Liberation Sans", "Noto Sans CJK SC", sans-serif' font-size="10.2" fill="#000" stroke="#000" stroke-width="0.22">19.5</text>
<text font-family='"Liberation Sans", "Noto Sans CJK SC", sans-serif' font-size="9.4" fill="#000" stroke="#000" stroke-width="0.25"><tspan x="41.10" y="128.87" font-size="9.4">-</tspan><tspan x="45.40" y="128.87" font-size="9.4">4</tspan><tspan x="52.50" y="129.90" font-size="9.4">°</tspan></text>
<text font-family='"Liberation Sans", "Noto Sans CJK SC", sans-serif' font-size="9.4" fill="#000" stroke="#000" stroke-width="0.25"><tspan x="41.10" y="168.81" font-size="9.4">-</tspan><tspan x="45.40" y="168.81" font-size="9.4">2</tspan><tspan x="52.50" y="169.84" font-size="9.4">°</tspan></text>
<text font-family='"Liberation Sans", "Noto Sans CJK SC", sans-serif' font-size="9.4" fill="#000" stroke="#000" stroke-width="0.25"><tspan x="40.70" y="208.75" font-size="9.4">0</tspan><tspan x="47.00" y="209.78" font-size="9.4">°</tspan></text>
<text font-family='"Liberation Sans", "Noto Sans CJK SC", sans-serif' font-size="9.4" fill="#000" stroke="#000" stroke-width="0.25"><tspan x="41.30" y="247.66" font-size="5.83">+</tspan><tspan x="45.40" y="248.69" font-size="9.4">2</tspan><tspan x="52.50" y="249.72" font-size="9.4">°</tspan></text>
<text font-family='"Liberation Sans", "Noto Sans CJK SC", sans-serif' font-size="9.4" fill="#000" stroke="#000" stroke-width="0.25"><tspan x="41.30" y="287.60" font-size="5.83">+</tspan><tspan x="45.40" y="288.63" font-size="9.4">4</tspan><tspan x="52.50" y="289.66" font-size="9.4">°</tspan></text>
<text transform="translate(186.60 195.44) scale(0.92 1)" x="-0.82 4.02 9.78 15.54" y="0" font-family='"Liberation Sans", "Noto Sans CJK SC", sans-serif' font-size="10.2" fill="#000" stroke="#000" stroke-width="0.22">1450</text>
<text transform="translate(367.00 188.00) scale(0.92 1)" x="0.00 5.76 11.52" y="0" font-family='"Liberation Sans", "Noto Sans CJK SC", sans-serif' font-size="10.2" fill="#000" stroke="#000" stroke-width="0.22">300</text>
<text transform="translate(318.80 149.10) scale(0.92 1)" x="-0.82 4.02 9.40 11.85" y="0" font-family='"Liberation Sans", "Noto Sans CJK SC", sans-serif' font-size="10.2" fill="#000" stroke="#000" stroke-width="0.22">18.5</text>
<text transform="translate(317.00 209.30) scale(0.92 1)" x="0.00 5.76" y="0" font-family='"Liberation Sans", "Noto Sans CJK SC", sans-serif' font-size="10.2" fill="#000" stroke="#000" stroke-width="0.22">22</text>
<text transform="translate(317.00 268.40) scale(0.92 1)" x="0.00 5.76" y="0" font-family='"Liberation Sans", "Noto Sans CJK SC", sans-serif' font-size="10.2" fill="#000" stroke="#000" stroke-width="0.22">37</text>
<text x="529.60" y="16.70" font-family='"Liberation Sans", "Noto Sans CJK SC", sans-serif' font-size="12.6" textLength="67.50" lengthAdjust="spacingAndGlyphs" fill="#000">350ZQB-100</text>
<text x="597.30" y="17.20" font-family='"Liberation Serif", "Noto Serif CJK SC", serif' font-size="9.7" font-weight="700" letter-spacing="-0.29" fill="#000">型潜水轴流泵性能表</text>
<text x="448.90" y="34.95" font-family='"Liberation Serif", "Noto Serif CJK SC", serif' font-size="8.2" font-weight="700" letter-spacing="-0.40" fill="#000">叶片</text>
<text x="448.90" y="48.05" font-family='"Liberation Serif", "Noto Serif CJK SC", serif' font-size="8.2" font-weight="700" letter-spacing="-0.40" fill="#000">安装</text>
<text x="448.90" y="61.35" font-family='"Liberation Serif", "Noto Serif CJK SC", serif' font-size="8.2" font-weight="700" letter-spacing="-0.40" fill="#000">角度</text>
<text x="492.70" y="41.65" font-family='"Liberation Serif", "Noto Serif CJK SC", serif' font-size="8.2" font-weight="700" letter-spacing="-0.20" fill="#000">流量</text>
<text x="522.90" y="41.75" font-family='"Liberation Sans", "Noto Sans CJK SC", sans-serif' font-size="9" textLength="6.70" lengthAdjust="spacingAndGlyphs" fill="#000" stroke="#000" stroke-width="0.2">Q</text>
<text x="557.05" y="41.65" font-family='"Liberation Serif", "Noto Serif CJK SC", serif' font-size="8.2" font-weight="700" letter-spacing="-0.40" fill="#000">扬程</text>
<text x="575.85" y="41.85" font-family='"Liberation Sans", "Noto Sans CJK SC", sans-serif' font-size="9.6" textLength="5.70" lengthAdjust="spacingAndGlyphs" fill="#000" stroke="#000" stroke-width="0.2">H</text>
<text x="595.60" y="41.65" font-family='"Liberation Serif", "Noto Serif CJK SC", serif' font-size="8.2" font-weight="700" letter-spacing="-0.40" fill="#000">转速</text>
<text x="615.00" y="41.85" font-family='"Liberation Sans", "Noto Sans CJK SC", sans-serif' font-size="9.6" textLength="5.30" lengthAdjust="spacingAndGlyphs" fill="#000" stroke="#000" stroke-width="0.2">n</text>
<text x="484.00" y="62.65" font-family='"Liberation Sans", "Noto Sans CJK SC", sans-serif' font-size="9.6" textLength="20.40" lengthAdjust="spacingAndGlyphs" fill="#000">m³/h</text>
<text x="524.65" y="62.65" font-family='"Liberation Sans", "Noto Sans CJK SC", sans-serif' font-size="9.6" textLength="17.90" lengthAdjust="spacingAndGlyphs" fill="#000">L/s</text>
<text x="568.05" y="62.65" font-family='"Liberation Sans", "Noto Sans CJK SC", sans-serif' font-size="9.2" textLength="7.20" lengthAdjust="spacingAndGlyphs" fill="#000">m</text>
<text x="595.40" y="62.65" font-family='"Liberation Sans", "Noto Sans CJK SC", sans-serif' font-size="9.6" textLength="25.10" lengthAdjust="spacingAndGlyphs" fill="#000">r/min</text>
<text x="638.00" y="34.95" font-family='"Liberation Serif", "Noto Serif CJK SC", serif' font-size="8.2" font-weight="700" letter-spacing="-0.40" fill="#000">水力</text>
<text x="638.00" y="48.05" font-family='"Liberation Serif", "Noto Serif CJK SC", serif' font-size="8.2" font-weight="700" letter-spacing="-0.40" fill="#000">效率</text>
<text x="637.80" y="62.65" font-family='"Liberation Sans", "Noto Sans CJK SC", sans-serif' font-size="10" textLength="15.40" lengthAdjust="spacingAndGlyphs" fill="#000">η%</text>
<text x="694.60" y="34.95" font-family='"Liberation Serif", "Noto Serif CJK SC", serif' font-size="8.2" font-weight="700" letter-spacing="0.00" fill="#000">功</text>
<text x="709.90" y="34.95" font-family='"Liberation Serif", "Noto Serif CJK SC", serif' font-size="8.2" font-weight="700" letter-spacing="0.00" fill="#000">率</text>
<text x="693.70" y="47.75" font-family='"Liberation Sans", "Noto Sans CJK SC", sans-serif' font-size="8.2" textLength="25.40" lengthAdjust="spacingAndGlyphs" fill="#000">(KW)</text>
<text x="670.70" y="61.35" font-family='"Liberation Serif", "Noto Serif CJK SC", serif' font-size="7.7" font-weight="700" letter-spacing="-0.25" fill="#000">轴功率</text>
<text x="706.95" y="61.35" font-family='"Liberation Serif", "Noto Serif CJK SC", serif' font-size="7.5" font-weight="700" letter-spacing="-0.18" fill="#000">电动机功率</text>
<text x="776.55" y="34.95" font-family='"Liberation Serif", "Noto Serif CJK SC", serif' font-size="8.2" font-weight="700" letter-spacing="-0.20" fill="#000">叶轮</text>
<text x="776.55" y="48.05" font-family='"Liberation Serif", "Noto Serif CJK SC", serif' font-size="8.2" font-weight="700" letter-spacing="-0.20" fill="#000">直径</text>
<text x="780.85" y="62.05" font-family='"Liberation Sans", "Noto Sans CJK SC", sans-serif' font-size="8.4" textLength="13.50" lengthAdjust="spacingAndGlyphs" fill="#000">mm</text>
<text transform="translate(484.70 76.63) scale(0.92 1)" x="0.00 4.95 9.78" y="0" font-family='"Liberation Sans", "Noto Sans CJK SC", sans-serif' font-size="10.2" fill="#000" stroke="#000" stroke-width="0.22">810</text>
<text transform="translate(522.85 76.63) scale(0.92 1)" x="0.00 5.76 11.52" y="0" font-family='"Liberation Sans", "Noto Sans CJK SC", sans-serif' font-size="10.2" fill="#000" stroke="#000" stroke-width="0.22">225</text>
<text transform="translate(560.75 76.63) scale(0.92 1)" x="0.00 5.38 7.83 13.59" y="0" font-family='"Liberation Sans", "Noto Sans CJK SC", sans-serif' font-size="10.2" fill="#000" stroke="#000" stroke-width="0.22">5.40</text>
<text transform="translate(637.00 76.63) scale(0.92 1)" x="0.00 5.76 11.14 13.59" y="0" font-family='"Liberation Sans", "Noto Sans CJK SC", sans-serif' font-size="10.2" fill="#000" stroke="#000" stroke-width="0.22">76.5</text>
<text transform="translate(675.60 76.63) scale(0.92 1)" x="-0.82 4.02 9.40 11.85" y="0" font-family='"Liberation Sans", "Noto Sans CJK SC", sans-serif' font-size="10.2" fill="#000" stroke="#000" stroke-width="0.22">15.6</text>
<text transform="translate(484.70 89.88) scale(0.92 1)" x="0.00 5.76 11.52" y="0" font-family='"Liberation Sans", "Noto Sans CJK SC", sans-serif' font-size="10.2" fill="#000" stroke="#000" stroke-width="0.22">900</text>
<text transform="translate(522.85 89.88) scale(0.92 1)" x="0.00 5.76 11.52" y="0" font-family='"Liberation Sans", "Noto Sans CJK SC", sans-serif' font-size="10.2" fill="#000" stroke="#000" stroke-width="0.22">250</text>
<text transform="translate(560.75 89.88) scale(0.92 1)" x="0.00 5.38 7.83 13.59" y="0" font-family='"Liberation Sans", "Noto Sans CJK SC", sans-serif' font-size="10.2" fill="#000" stroke="#000" stroke-width="0.22">4.03</text>
<text transform="translate(637.00 89.88) scale(0.92 1)" x="0.00 5.76 11.14 13.59" y="0" font-family='"Liberation Sans", "Noto Sans CJK SC", sans-serif' font-size="10.2" fill="#000" stroke="#000" stroke-width="0.22">78.4</text>
<text transform="translate(675.60 89.88) scale(0.92 1)" x="-0.82 4.02 9.40 11.85" y="0" font-family='"Liberation Sans", "Noto Sans CJK SC", sans-serif' font-size="10.2" fill="#000" stroke="#000" stroke-width="0.22">12.6</text>
<text transform="translate(484.70 103.14) scale(0.92 1)" x="0.00 5.76 11.52" y="0" font-family='"Liberation Sans", "Noto Sans CJK SC", sans-serif' font-size="10.2" fill="#000" stroke="#000" stroke-width="0.22">972</text>
<text transform="translate(522.85 103.14) scale(0.92 1)" x="0.00 5.76 11.52" y="0" font-family='"Liberation Sans", "Noto Sans CJK SC", sans-serif' font-size="10.2" fill="#000" stroke="#000" stroke-width="0.22">270</text>
<text transform="translate(560.75 103.14) scale(0.92 1)" x="0.00 5.38 7.83 13.59" y="0" font-family='"Liberation Sans", "Noto Sans CJK SC", sans-serif' font-size="10.2" fill="#000" stroke="#000" stroke-width="0.22">3.20</text>
<text transform="translate(637.00 103.14) scale(0.92 1)" x="0.00 5.76 11.14 13.59" y="0" font-family='"Liberation Sans", "Noto Sans CJK SC", sans-serif' font-size="10.2" fill="#000" stroke="#000" stroke-width="0.22">76.5</text>
<text transform="translate(675.60 103.14) scale(0.92 1)" x="-0.82 3.21 7.66 9.29" y="0" font-family='"Liberation Sans", "Noto Sans CJK SC", sans-serif' font-size="10.2" fill="#000" stroke="#000" stroke-width="0.22">11.1</text>
<text transform="translate(484.70 116.39) scale(0.92 1)" x="0.00 5.76 11.52" y="0" font-family='"Liberation Sans", "Noto Sans CJK SC", sans-serif' font-size="10.2" fill="#000" stroke="#000" stroke-width="0.22">878</text>
<text transform="translate(522.85 116.39) scale(0.92 1)" x="0.00 5.76 11.52" y="0" font-family='"Liberation Sans", "Noto Sans CJK SC", sans-serif' font-size="10.2" fill="#000" stroke="#000" stroke-width="0.22">244</text>
<text transform="translate(560.75 116.39) scale(0.92 1)" x="0.00 5.38 7.83 13.59" y="0" font-family='"Liberation Sans", "Noto Sans CJK SC", sans-serif' font-size="10.2" fill="#000" stroke="#000" stroke-width="0.22">5.80</text>
<text transform="translate(637.00 116.39) scale(0.92 1)" x="0.00 5.76 11.14 13.59" y="0" font-family='"Liberation Sans", "Noto Sans CJK SC", sans-serif' font-size="10.2" fill="#000" stroke="#000" stroke-width="0.22">76.5</text>
<text transform="translate(675.60 116.39) scale(0.92 1)" x="-0.82 4.02 9.40 11.03" y="0" font-family='"Liberation Sans", "Noto Sans CJK SC", sans-serif' font-size="10.2" fill="#000" stroke="#000" stroke-width="0.22">18.1</text>
<text transform="translate(484.70 129.65) scale(0.92 1)" x="-0.82 4.02 9.78 15.54" y="0" font-family='"Liberation Sans", "Noto Sans CJK SC", sans-serif' font-size="10.2" fill="#000" stroke="#000" stroke-width="0.22">1008</text>
<text transform="translate(522.85 129.65) scale(0.92 1)" x="0.00 5.76 11.52" y="0" font-family='"Liberation Sans", "Noto Sans CJK SC", sans-serif' font-size="10.2" fill="#000" stroke="#000" stroke-width="0.22">280</text>
<text transform="translate(560.75 129.65) scale(0.92 1)" x="0.00 5.38 7.01 11.85" y="0" font-family='"Liberation Sans", "Noto Sans CJK SC", sans-serif' font-size="10.2" fill="#000" stroke="#000" stroke-width="0.22">4.10</text>
<text transform="translate(637.00 129.65) scale(0.92 1)" x="0.00 5.76 11.14 13.59" y="0" font-family='"Liberation Sans", "Noto Sans CJK SC", sans-serif' font-size="10.2" fill="#000" stroke="#000" stroke-width="0.22">79.6</text>
<text transform="translate(675.60 129.65) scale(0.92 1)" x="-0.82 4.02 9.40 11.03" y="0" font-family='"Liberation Sans", "Noto Sans CJK SC", sans-serif' font-size="10.2" fill="#000" stroke="#000" stroke-width="0.22">14.1</text>
<text transform="translate(484.70 142.91) scale(0.92 1)" x="-0.82 4.02 9.78 15.54" y="0" font-family='"Liberation Sans", "Noto Sans CJK SC", sans-serif' font-size="10.2" fill="#000" stroke="#000" stroke-width="0.22">1080</text>
<text transform="translate(522.85 142.91) scale(0.92 1)" x="0.00 5.76 11.52" y="0" font-family='"Liberation Sans", "Noto Sans CJK SC", sans-serif' font-size="10.2" fill="#000" stroke="#000" stroke-width="0.22">300</text>
<text transform="translate(560.75 142.91) scale(0.92 1)" x="0.00 5.38 7.83 13.59" y="0" font-family='"Liberation Sans", "Noto Sans CJK SC", sans-serif' font-size="10.2" fill="#000" stroke="#000" stroke-width="0.22">3.20</text>
<text transform="translate(637.00 142.91) scale(0.92 1)" x="0.00 5.76 11.14 13.59" y="0" font-family='"Liberation Sans", "Noto Sans CJK SC", sans-serif' font-size="10.2" fill="#000" stroke="#000" stroke-width="0.22">76.5</text>
<text transform="translate(675.60 142.91) scale(0.92 1)" x="-0.82 4.02 9.40 11.85" y="0" font-family='"Liberation Sans", "Noto Sans CJK SC", sans-serif' font-size="10.2" fill="#000" stroke="#000" stroke-width="0.22">12.3</text>
<text transform="translate(484.70 156.16) scale(0.92 1)" x="0.00 5.76 11.52" y="0" font-family='"Liberation Sans", "Noto Sans CJK SC", sans-serif' font-size="10.2" fill="#000" stroke="#000" stroke-width="0.22">954</text>
<text transform="translate(522.85 156.16) scale(0.92 1)" x="0.00 5.76 11.52" y="0" font-family='"Liberation Sans", "Noto Sans CJK SC", sans-serif' font-size="10.2" fill="#000" stroke="#000" stroke-width="0.22">265</text>
<text transform="translate(560.75 156.16) scale(0.92 1)" x="0.00 5.38 7.83 13.59" y="0" font-family='"Liberation Sans", "Noto Sans CJK SC", sans-serif' font-size="10.2" fill="#000" stroke="#000" stroke-width="0.22">5.83</text>
<text transform="translate(637.00 156.16) scale(0.92 1)" x="0.00 5.76 11.14 13.59" y="0" font-family='"Liberation Sans", "Noto Sans CJK SC", sans-serif' font-size="10.2" fill="#000" stroke="#000" stroke-width="0.22">77.5</text>
<text transform="translate(675.60 156.16) scale(0.92 1)" x="-0.82 4.02 9.40 11.85" y="0" font-family='"Liberation Sans", "Noto Sans CJK SC", sans-serif' font-size="10.2" fill="#000" stroke="#000" stroke-width="0.22">19.6</text>
<text transform="translate(484.70 169.42) scale(0.92 1)" x="-0.82 4.02 9.78 15.54" y="0" font-family='"Liberation Sans", "Noto Sans CJK SC", sans-serif' font-size="10.2" fill="#000" stroke="#000" stroke-width="0.22">1080</text>
<text transform="translate(522.85 169.42) scale(0.92 1)" x="0.00 5.76 11.52" y="0" font-family='"Liberation Sans", "Noto Sans CJK SC", sans-serif' font-size="10.2" fill="#000" stroke="#000" stroke-width="0.22">300</text>
<text transform="translate(560.75 169.42) scale(0.92 1)" x="0.00 5.38 7.83 13.59" y="0" font-family='"Liberation Sans", "Noto Sans CJK SC", sans-serif' font-size="10.2" fill="#000" stroke="#000" stroke-width="0.22">4.20</text>
<text transform="translate(637.00 169.42) scale(0.92 1)" x="0.00 5.76 11.14 13.59" y="0" font-family='"Liberation Sans", "Noto Sans CJK SC", sans-serif' font-size="10.2" fill="#000" stroke="#000" stroke-width="0.22">80.2</text>
<text transform="translate(675.60 169.42) scale(0.92 1)" x="-0.82 4.02 9.40 11.85" y="0" font-family='"Liberation Sans", "Noto Sans CJK SC", sans-serif' font-size="10.2" fill="#000" stroke="#000" stroke-width="0.22">15.4</text>
<text transform="translate(484.70 182.67) scale(0.92 1)" x="-0.82 3.21 8.04 13.80" y="0" font-family='"Liberation Sans", "Noto Sans CJK SC", sans-serif' font-size="10.2" fill="#000" stroke="#000" stroke-width="0.22">1188</text>
<text transform="translate(522.85 182.67) scale(0.92 1)" x="0.00 5.76 11.52" y="0" font-family='"Liberation Sans", "Noto Sans CJK SC", sans-serif' font-size="10.2" fill="#000" stroke="#000" stroke-width="0.22">330</text>
<text transform="translate(560.75 182.67) scale(0.92 1)" x="0.00 5.38 7.83 13.59" y="0" font-family='"Liberation Sans", "Noto Sans CJK SC", sans-serif' font-size="10.2" fill="#000" stroke="#000" stroke-width="0.22">2.90</text>
<text transform="translate(637.00 182.67) scale(0.92 1)" x="0.00 5.76 11.14 13.59" y="0" font-family='"Liberation Sans", "Noto Sans CJK SC", sans-serif' font-size="10.2" fill="#000" stroke="#000" stroke-width="0.22">77.5</text>
<text transform="translate(675.60 182.67) scale(0.92 1)" x="-0.82 4.02 9.40 11.03" y="0" font-family='"Liberation Sans", "Noto Sans CJK SC", sans-serif' font-size="10.2" fill="#000" stroke="#000" stroke-width="0.22">12.1</text>
<text transform="translate(484.70 195.93) scale(0.92 1)" x="-0.82 4.02 9.78 15.54" y="0" font-family='"Liberation Sans", "Noto Sans CJK SC", sans-serif' font-size="10.2" fill="#000" stroke="#000" stroke-width="0.22">1033</text>
<text transform="translate(522.85 195.93) scale(0.92 1)" x="0.00 5.76 11.52" y="0" font-family='"Liberation Sans", "Noto Sans CJK SC", sans-serif' font-size="10.2" fill="#000" stroke="#000" stroke-width="0.22">287</text>
<text transform="translate(560.75 195.93) scale(0.92 1)" x="0.00 5.38 7.83 13.59" y="0" font-family='"Liberation Sans", "Noto Sans CJK SC", sans-serif' font-size="10.2" fill="#000" stroke="#000" stroke-width="0.22">6.00</text>
<text transform="translate(637.00 195.93) scale(0.92 1)" x="0.00 5.76 11.14 13.59" y="0" font-family='"Liberation Sans", "Noto Sans CJK SC", sans-serif' font-size="10.2" fill="#000" stroke="#000" stroke-width="0.22">77.5</text>
<text transform="translate(675.60 195.93) scale(0.92 1)" x="0.00 4.95 9.40 11.85" y="0" font-family='"Liberation Sans", "Noto Sans CJK SC", sans-serif' font-size="10.2" fill="#000" stroke="#000" stroke-width="0.22">21.8</text>
<text transform="translate(484.70 209.18) scale(0.92 1)" x="-0.82 3.21 8.04 13.80" y="0" font-family='"Liberation Sans", "Noto Sans CJK SC", sans-serif' font-size="10.2" fill="#000" stroke="#000" stroke-width="0.22">1188</text>
<text transform="translate(522.85 209.18) scale(0.92 1)" x="0.00 5.76 11.52" y="0" font-family='"Liberation Sans", "Noto Sans CJK SC", sans-serif' font-size="10.2" fill="#000" stroke="#000" stroke-width="0.22">330</text>
<text transform="translate(560.75 209.18) scale(0.92 1)" x="0.00 5.38 7.83 12.77" y="0" font-family='"Liberation Sans", "Noto Sans CJK SC", sans-serif' font-size="10.2" fill="#000" stroke="#000" stroke-width="0.22">4.21</text>
<text transform="translate(637.00 209.18) scale(0.92 1)" x="0.00 5.76 11.14 13.59" y="0" font-family='"Liberation Sans", "Noto Sans CJK SC", sans-serif' font-size="10.2" fill="#000" stroke="#000" stroke-width="0.22">80.5</text>
<text transform="translate(675.60 209.18) scale(0.92 1)" x="-0.82 4.02 9.40 11.85" y="0" font-family='"Liberation Sans", "Noto Sans CJK SC", sans-serif' font-size="10.2" fill="#000" stroke="#000" stroke-width="0.22">16.9</text>
<text transform="translate(484.70 222.44) scale(0.92 1)" x="-0.82 4.02 9.78 15.54" y="0" font-family='"Liberation Sans", "Noto Sans CJK SC", sans-serif' font-size="10.2" fill="#000" stroke="#000" stroke-width="0.22">1285</text>
<text transform="translate(522.85 222.44) scale(0.92 1)" x="0.00 5.76 11.52" y="0" font-family='"Liberation Sans", "Noto Sans CJK SC", sans-serif' font-size="10.2" fill="#000" stroke="#000" stroke-width="0.22">357</text>
<text transform="translate(560.75 222.44) scale(0.92 1)" x="0.00 5.38 7.83 13.59" y="0" font-family='"Liberation Sans", "Noto Sans CJK SC", sans-serif' font-size="10.2" fill="#000" stroke="#000" stroke-width="0.22">2.89</text>
<text transform="translate(637.00 222.44) scale(0.92 1)" x="0.00 5.76 11.14 13.59" y="0" font-family='"Liberation Sans", "Noto Sans CJK SC", sans-serif' font-size="10.2" fill="#000" stroke="#000" stroke-width="0.22">77.5</text>
<text transform="translate(675.60 222.44) scale(0.92 1)" x="-0.82 4.02 9.40 11.03" y="0" font-family='"Liberation Sans", "Noto Sans CJK SC", sans-serif' font-size="10.2" fill="#000" stroke="#000" stroke-width="0.22">13.1</text>
<text transform="translate(484.70 235.69) scale(0.92 1)" x="-0.82 4.02 9.78 14.73" y="0" font-family='"Liberation Sans", "Noto Sans CJK SC", sans-serif' font-size="10.2" fill="#000" stroke="#000" stroke-width="0.22">1091</text>
<text transform="translate(522.85 235.69) scale(0.92 1)" x="0.00 5.76 11.52" y="0" font-family='"Liberation Sans", "Noto Sans CJK SC", sans-serif' font-size="10.2" fill="#000" stroke="#000" stroke-width="0.22">303</text>
<text transform="translate(560.75 235.69) scale(0.92 1)" x="0.00 5.38 7.83 13.59" y="0" font-family='"Liberation Sans", "Noto Sans CJK SC", sans-serif' font-size="10.2" fill="#000" stroke="#000" stroke-width="0.22">6.00</text>
<text transform="translate(637.00 235.69) scale(0.92 1)" x="0.00 5.76 11.14 13.59" y="0" font-family='"Liberation Sans", "Noto Sans CJK SC", sans-serif' font-size="10.2" fill="#000" stroke="#000" stroke-width="0.22">76.7</text>
<text transform="translate(675.60 235.69) scale(0.92 1)" x="0.00 5.76 11.14 13.59" y="0" font-family='"Liberation Sans", "Noto Sans CJK SC", sans-serif' font-size="10.2" fill="#000" stroke="#000" stroke-width="0.22">23.3</text>
<text transform="translate(484.70 248.95) scale(0.92 1)" x="-0.82 4.02 9.78 15.54" y="0" font-family='"Liberation Sans", "Noto Sans CJK SC", sans-serif' font-size="10.2" fill="#000" stroke="#000" stroke-width="0.22">1260</text>
<text transform="translate(522.85 248.95) scale(0.92 1)" x="0.00 5.76 11.52" y="0" font-family='"Liberation Sans", "Noto Sans CJK SC", sans-serif' font-size="10.2" fill="#000" stroke="#000" stroke-width="0.22">350</text>
<text transform="translate(560.75 248.95) scale(0.92 1)" x="0.00 5.38 7.83 13.59" y="0" font-family='"Liberation Sans", "Noto Sans CJK SC", sans-serif' font-size="10.2" fill="#000" stroke="#000" stroke-width="0.22">4.43</text>
<text transform="translate(637.00 248.95) scale(0.92 1)" x="0.00 4.95 9.40 11.85" y="0" font-family='"Liberation Sans", "Noto Sans CJK SC", sans-serif' font-size="10.2" fill="#000" stroke="#000" stroke-width="0.22">81.0</text>
<text transform="translate(675.60 248.95) scale(0.92 1)" x="-0.82 4.02 9.40 11.85" y="0" font-family='"Liberation Sans", "Noto Sans CJK SC", sans-serif' font-size="10.2" fill="#000" stroke="#000" stroke-width="0.22">18.8</text>
<text transform="translate(484.70 262.21) scale(0.92 1)" x="-0.82 4.02 9.78 15.54" y="0" font-family='"Liberation Sans", "Noto Sans CJK SC", sans-serif' font-size="10.2" fill="#000" stroke="#000" stroke-width="0.22">1368</text>
<text transform="translate(522.85 262.21) scale(0.92 1)" x="0.00 5.76 11.52" y="0" font-family='"Liberation Sans", "Noto Sans CJK SC", sans-serif' font-size="10.2" fill="#000" stroke="#000" stroke-width="0.22">380</text>
<text transform="translate(560.75 262.21) scale(0.92 1)" x="0.00 5.38 7.83 13.59" y="0" font-family='"Liberation Sans", "Noto Sans CJK SC", sans-serif' font-size="10.2" fill="#000" stroke="#000" stroke-width="0.22">3.20</text>
<text transform="translate(637.00 262.21) scale(0.92 1)" x="0.00 5.76 11.14 13.59" y="0" font-family='"Liberation Sans", "Noto Sans CJK SC", sans-serif' font-size="10.2" fill="#000" stroke="#000" stroke-width="0.22">76.5</text>
<text transform="translate(675.60 262.21) scale(0.92 1)" x="-0.82 4.02 9.40 11.85" y="0" font-family='"Liberation Sans", "Noto Sans CJK SC", sans-serif' font-size="10.2" fill="#000" stroke="#000" stroke-width="0.22">15.6</text>
<text transform="translate(484.70 275.46) scale(0.92 1)" x="-0.82 3.21 8.04 13.80" y="0" font-family='"Liberation Sans", "Noto Sans CJK SC", sans-serif' font-size="10.2" fill="#000" stroke="#000" stroke-width="0.22">1170</text>
<text transform="translate(522.85 275.46) scale(0.92 1)" x="0.00 5.76 11.52" y="0" font-family='"Liberation Sans", "Noto Sans CJK SC", sans-serif' font-size="10.2" fill="#000" stroke="#000" stroke-width="0.22">325</text>
<text transform="translate(560.75 275.46) scale(0.92 1)" x="0.00 5.38 7.83 13.59" y="0" font-family='"Liberation Sans", "Noto Sans CJK SC", sans-serif' font-size="10.2" fill="#000" stroke="#000" stroke-width="0.22">6.40</text>
<text transform="translate(637.00 275.46) scale(0.92 1)" x="0.00 5.76 11.14 13.59" y="0" font-family='"Liberation Sans", "Noto Sans CJK SC", sans-serif' font-size="10.2" fill="#000" stroke="#000" stroke-width="0.22">75.5</text>
<text transform="translate(675.60 275.46) scale(0.92 1)" x="0.00 5.76 11.14 13.59" y="0" font-family='"Liberation Sans", "Noto Sans CJK SC", sans-serif' font-size="10.2" fill="#000" stroke="#000" stroke-width="0.22">27.0</text>
<text transform="translate(484.70 288.72) scale(0.92 1)" x="-0.82 4.02 9.78 15.54" y="0" font-family='"Liberation Sans", "Noto Sans CJK SC", sans-serif' font-size="10.2" fill="#000" stroke="#000" stroke-width="0.22">1350</text>
<text transform="translate(522.85 288.72) scale(0.92 1)" x="0.00 5.76 11.52" y="0" font-family='"Liberation Sans", "Noto Sans CJK SC", sans-serif' font-size="10.2" fill="#000" stroke="#000" stroke-width="0.22">375</text>
<text transform="translate(560.75 288.72) scale(0.92 1)" x="0.00 5.38 7.83 13.59" y="0" font-family='"Liberation Sans", "Noto Sans CJK SC", sans-serif' font-size="10.2" fill="#000" stroke="#000" stroke-width="0.22">4.45</text>
<text transform="translate(637.00 288.72) scale(0.92 1)" x="0.00 5.76 11.14 13.59" y="0" font-family='"Liberation Sans", "Noto Sans CJK SC", sans-serif' font-size="10.2" fill="#000" stroke="#000" stroke-width="0.22">80.7</text>
<text transform="translate(675.60 288.72) scale(0.92 1)" x="0.00 5.76 11.14 13.59" y="0" font-family='"Liberation Sans", "Noto Sans CJK SC", sans-serif' font-size="10.2" fill="#000" stroke="#000" stroke-width="0.22">20.3</text>
<text transform="translate(484.70 301.97) scale(0.92 1)" x="-0.82 4.02 9.78 15.54" y="0" font-family='"Liberation Sans", "Noto Sans CJK SC", sans-serif' font-size="10.2" fill="#000" stroke="#000" stroke-width="0.22">1440</text>
<text transform="translate(522.85 301.97) scale(0.92 1)" x="0.00 5.76 11.52" y="0" font-family='"Liberation Sans", "Noto Sans CJK SC", sans-serif' font-size="10.2" fill="#000" stroke="#000" stroke-width="0.22">400</text>
<text transform="translate(560.75 301.97) scale(0.92 1)" x="0.00 5.38 7.83 13.59" y="0" font-family='"Liberation Sans", "Noto Sans CJK SC", sans-serif' font-size="10.2" fill="#000" stroke="#000" stroke-width="0.22">3.40</text>
<text transform="translate(637.00 301.97) scale(0.92 1)" x="0.00 5.76 11.14 13.59" y="0" font-family='"Liberation Sans", "Noto Sans CJK SC", sans-serif' font-size="10.2" fill="#000" stroke="#000" stroke-width="0.22">76.5</text>
<text transform="translate(675.60 301.97) scale(0.92 1)" x="-0.82 4.02 9.40 11.85" y="0" font-family='"Liberation Sans", "Noto Sans CJK SC", sans-serif' font-size="10.2" fill="#000" stroke="#000" stroke-width="0.22">17.4</text>
<text font-family='"Liberation Sans", "Noto Sans CJK SC", sans-serif' font-size="9.4" fill="#000" stroke="#000" stroke-width="0.25"><tspan x="454.90" y="89.88" font-size="9.4">-</tspan><tspan x="459.20" y="89.88" font-size="9.4">6</tspan><tspan x="466.30" y="90.92" font-size="9.4">°</tspan></text>
<text font-family='"Liberation Sans", "Noto Sans CJK SC", sans-serif' font-size="9.4" fill="#000" stroke="#000" stroke-width="0.25"><tspan x="454.90" y="129.65" font-size="9.4">-</tspan><tspan x="459.20" y="129.65" font-size="9.4">4</tspan><tspan x="466.30" y="130.68" font-size="9.4">°</tspan></text>
<text font-family='"Liberation Sans", "Noto Sans CJK SC", sans-serif' font-size="9.4" fill="#000" stroke="#000" stroke-width="0.25"><tspan x="454.90" y="169.42" font-size="9.4">-</tspan><tspan x="459.20" y="169.42" font-size="9.4">2</tspan><tspan x="466.30" y="170.45" font-size="9.4">°</tspan></text>
<text font-family='"Liberation Sans", "Noto Sans CJK SC", sans-serif' font-size="9.4" fill="#000" stroke="#000" stroke-width="0.25"><tspan x="454.50" y="209.18" font-size="9.4">0</tspan><tspan x="460.80" y="210.22" font-size="9.4">°</tspan></text>
<text font-family='"Liberation Sans", "Noto Sans CJK SC", sans-serif' font-size="9.4" fill="#000" stroke="#000" stroke-width="0.25"><tspan x="455.10" y="247.92" font-size="5.83">+</tspan><tspan x="459.20" y="248.95" font-size="9.4">2</tspan><tspan x="466.30" y="249.98" font-size="9.4">°</tspan></text>
<text font-family='"Liberation Sans", "Noto Sans CJK SC", sans-serif' font-size="9.4" fill="#000" stroke="#000" stroke-width="0.25"><tspan x="455.10" y="287.68" font-size="5.83">+</tspan><tspan x="459.20" y="288.72" font-size="9.4">4</tspan><tspan x="466.30" y="289.75" font-size="9.4">°</tspan></text>
<text transform="translate(599.50 196.13) scale(0.92 1)" x="-0.82 4.02 9.78 15.54" y="0" font-family='"Liberation Sans", "Noto Sans CJK SC", sans-serif' font-size="10.2" fill="#000" stroke="#000" stroke-width="0.22">1450</text>
<text transform="translate(779.55 188.00) scale(0.92 1)" x="0.00 5.76 11.52" y="0" font-family='"Liberation Sans", "Noto Sans CJK SC", sans-serif' font-size="10.2" fill="#000" stroke="#000" stroke-width="0.22">300</text>
<text transform="translate(729.50 141.70) scale(0.92 1)" x="0.00 5.76" y="0" font-family='"Liberation Sans", "Noto Sans CJK SC", sans-serif' font-size="10.2" fill="#000" stroke="#000" stroke-width="0.22">22</text>
<text transform="translate(729.50 268.30) scale(0.92 1)" x="0.00 5.76" y="0" font-family='"Liberation Sans", "Noto Sans CJK SC", sans-serif' font-size="10.2" fill="#000" stroke="#000" stroke-width="0.22">30</text>
<text x="142.20" y="343.20" font-family='"Liberation Sans", "Noto Sans CJK SC", sans-serif' font-size="14.8" textLength="76.70" lengthAdjust="spacingAndGlyphs" fill="#000">500ZQB-50</text>
<text x="219.80" y="343.30" font-family='"Liberation Serif", "Noto Serif CJK SC", serif' font-size="11.9" font-weight="700" letter-spacing="-0.36" fill="#000">型潜水轴流泵性能曲线图</text>
<text x="43.40" y="349.00" font-family='"Liberation Sans", "Noto Sans CJK SC", sans-serif' font-size="12" textLength="7.90" lengthAdjust="spacingAndGlyphs" fill="#000">H</text>
<text x="39.10" y="361.50" font-family='"Liberation Sans", "Noto Sans CJK SC", sans-serif' font-size="11.5" textLength="15.10" lengthAdjust="spacingAndGlyphs" fill="#000">(m)</text>
<text x="47.20" y="384.10" font-family='"Liberation Sans", "Noto Sans CJK SC", sans-serif' font-size="12.2" textLength="11.70" lengthAdjust="spacingAndGlyphs" fill="#000">12</text>
<text x="47.20" y="411.10" font-family='"Liberation Sans", "Noto Sans CJK SC", sans-serif' font-size="12.2" textLength="9.40" lengthAdjust="spacingAndGlyphs" fill="#000">11</text>
<text x="47.20" y="438.10" font-family='"Liberation Sans", "Noto Sans CJK SC", sans-serif' font-size="12.2" textLength="11.70" lengthAdjust="spacingAndGlyphs" fill="#000">10</text>
<text x="50.20" y="465.20" font-family='"Liberation Sans", "Noto Sans CJK SC", sans-serif' font-size="12.2" textLength="5.50" lengthAdjust="spacingAndGlyphs" fill="#000">9</text>
<text x="50.20" y="492.10" font-family='"Liberation Sans", "Noto Sans CJK SC", sans-serif' font-size="12.2" textLength="5.50" lengthAdjust="spacingAndGlyphs" fill="#000">8</text>
<text x="50.20" y="518.20" font-family='"Liberation Sans", "Noto Sans CJK SC", sans-serif' font-size="12.2" textLength="5.50" lengthAdjust="spacingAndGlyphs" fill="#000">7</text>
<text x="50.20" y="545.20" font-family='"Liberation Sans", "Noto Sans CJK SC", sans-serif' font-size="12.2" textLength="5.50" lengthAdjust="spacingAndGlyphs" fill="#000">6</text>
<text x="50.20" y="572.30" font-family='"Liberation Sans", "Noto Sans CJK SC", sans-serif' font-size="12.2" textLength="5.50" lengthAdjust="spacingAndGlyphs" fill="#000">5</text>
<text x="50.20" y="599.20" font-family='"Liberation Sans", "Noto Sans CJK SC", sans-serif' font-size="12.2" textLength="5.50" lengthAdjust="spacingAndGlyphs" fill="#000">4</text>
<text x="50.20" y="622.00" font-family='"Liberation Sans", "Noto Sans CJK SC", sans-serif' font-size="12.2" textLength="5.50" lengthAdjust="spacingAndGlyphs" fill="#000">3</text>
<text x="55.70" y="636.30" font-family='"Liberation Sans", "Noto Sans CJK SC", sans-serif' font-size="12.6" textLength="19.20" lengthAdjust="spacingAndGlyphs" fill="#000">350</text>
<text x="144.70" y="636.30" font-family='"Liberation Sans", "Noto Sans CJK SC", sans-serif' font-size="12.6" textLength="19.20" lengthAdjust="spacingAndGlyphs" fill="#000">450</text>
<text x="233.20" y="636.30" font-family='"Liberation Sans", "Noto Sans CJK SC", sans-serif' font-size="12.6" textLength="19.20" lengthAdjust="spacingAndGlyphs" fill="#000">550</text>
<text x="321.90" y="636.30" font-family='"Liberation Sans", "Noto Sans CJK SC", sans-serif' font-size="12.6" textLength="19.20" lengthAdjust="spacingAndGlyphs" fill="#000">650</text>
<text x="410.90" y="636.30" font-family='"Liberation Sans", "Noto Sans CJK SC", sans-serif' font-size="12.6" textLength="19.20" lengthAdjust="spacingAndGlyphs" fill="#000">750</text>
<text x="445.60" y="640.30" font-family='"Liberation Sans", "Noto Sans CJK SC", sans-serif' font-size="11.5" textLength="6.90" lengthAdjust="spacingAndGlyphs" fill="#000">Q</text>
<text x="458.80" y="638.20" font-family='"Liberation Sans", "Noto Sans CJK SC", sans-serif' font-size="12.2" textLength="25.90" lengthAdjust="spacingAndGlyphs" fill="#000">[L/s]</text>
<text x="467.20" y="438.20" font-family='"Liberation Sans", "Noto Sans CJK SC", sans-serif' font-size="12" textLength="6.10" lengthAdjust="spacingAndGlyphs" fill="#000">E</text>
<text x="462.40" y="451.50" font-family='"Liberation Sans", "Noto Sans CJK SC", sans-serif' font-size="12" textLength="17.50" lengthAdjust="spacingAndGlyphs" fill="#000">(%)</text>
<text transform="translate(267.60 392.50) scale(0.885 1)" font-family='"Liberation Sans", "Noto Sans CJK SC", sans-serif' font-size="12.6" fill="#000">76.53%</text>
<text transform="translate(287.00 404.40) scale(0.885 1)" font-family='"Liberation Sans", "Noto Sans CJK SC", sans-serif' font-size="12.6" fill="#000">78.41%</text>
<text transform="translate(302.00 413.80) scale(0.885 1)" font-family='"Liberation Sans", "Noto Sans CJK SC", sans-serif' font-size="12.6" fill="#000">80.13%</text>
<text transform="translate(325.80 426.90) scale(0.885 1)" font-family='"Liberation Sans", "Noto Sans CJK SC", sans-serif' font-size="12.6" fill="#000">81.0%</text>
<text transform="translate(380.10 458.80) scale(0.885 1)" font-family='"Liberation Sans", "Noto Sans CJK SC", sans-serif' font-size="12.6" fill="#000">81.0%</text>
<text transform="translate(409.25 480.00) scale(0.885 1)" font-family='"Liberation Sans", "Noto Sans CJK SC", sans-serif' font-size="12.6" fill="#000">80.13%</text>
<text transform="translate(428.90 498.20) scale(0.885 1)" font-family='"Liberation Sans", "Noto Sans CJK SC", sans-serif' font-size="12.6" fill="#000">78.41%</text>
<text font-family='"Liberation Sans", "Noto Sans CJK SC", sans-serif' font-size="12" fill="#000"><tspan x="293.70" y="584.20" font-size="12">-</tspan><tspan x="298.90" y="584.20" font-size="12">6</tspan><tspan x="307.30" y="585.52" font-size="12">°</tspan></text>
<text font-family='"Liberation Sans", "Noto Sans CJK SC", sans-serif' font-size="12" fill="#000"><tspan x="328.40" y="580.10" font-size="12">-</tspan><tspan x="333.60" y="580.10" font-size="12">4</tspan><tspan x="342.00" y="581.42" font-size="12">°</tspan></text>
<text font-family='"Liberation Sans", "Noto Sans CJK SC", sans-serif' font-size="12" fill="#000"><tspan x="368.30" y="584.20" font-size="12">-</tspan><tspan x="373.50" y="584.20" font-size="12">2</tspan><tspan x="381.90" y="585.52" font-size="12">°</tspan></text>
<text font-family='"Liberation Sans", "Noto Sans CJK SC", sans-serif' font-size="12" fill="#000"><tspan x="402.10" y="582.40" font-size="12">0</tspan><tspan x="409.90" y="583.72" font-size="12">°</tspan></text>
<text font-family='"Liberation Sans", "Noto Sans CJK SC", sans-serif' font-size="12" fill="#000"><tspan x="438.50" y="560.08" font-size="7.44">+</tspan><tspan x="444.50" y="561.40" font-size="12">2</tspan><tspan x="452.70" y="562.72" font-size="12">°</tspan></text>
<text font-family='"Liberation Sans", "Noto Sans CJK SC", sans-serif' font-size="12" fill="#000"><tspan x="438.50" y="530.68" font-size="7.44">+</tspan><tspan x="444.70" y="532.00" font-size="12">4</tspan><tspan x="454.30" y="533.32" font-size="12">°</tspan></text>
<text x="643.30" y="343.20" font-family='"Liberation Sans", "Noto Sans CJK SC", sans-serif' font-size="14.8" textLength="85.50" lengthAdjust="spacingAndGlyphs" fill="#000">500ZQB-50D</text>
<text x="729.60" y="343.30" font-family='"Liberation Serif", "Noto Serif CJK SC", serif' font-size="11.9" font-weight="700" letter-spacing="-0.39" fill="#000">型潜水轴流泵性能曲线图</text>
<text x="549.60" y="346.20" font-family='"Liberation Sans", "Noto Sans CJK SC", sans-serif' font-size="10.5" textLength="7.10" lengthAdjust="spacingAndGlyphs" fill="#000" stroke="#000" stroke-width="0.2">H</text>
<text x="545.10" y="357.60" font-family='"Liberation Sans", "Noto Sans CJK SC", sans-serif' font-size="10.5" textLength="15.40" lengthAdjust="spacingAndGlyphs" fill="#000" stroke="#000" stroke-width="0.2">(m)</text>
<text x="546.10" y="384.30" font-family='"Liberation Sans", "Noto Sans CJK SC", sans-serif' font-size="10.8" textLength="16.10" lengthAdjust="spacingAndGlyphs" fill="#000" stroke="#000" stroke-width="0.2">6.0</text>
<text x="546.10" y="411.30" font-family='"Liberation Sans", "Noto Sans CJK SC", sans-serif' font-size="10.8" textLength="16.10" lengthAdjust="spacingAndGlyphs" fill="#000" stroke="#000" stroke-width="0.2">5.5</text>
<text x="546.10" y="438.30" font-family='"Liberation Sans", "Noto Sans CJK SC", sans-serif' font-size="10.8" textLength="16.10" lengthAdjust="spacingAndGlyphs" fill="#000" stroke="#000" stroke-width="0.2">5.0</text>
<text x="546.10" y="465.40" font-family='"Liberation Sans", "Noto Sans CJK SC", sans-serif' font-size="10.8" textLength="16.10" lengthAdjust="spacingAndGlyphs" fill="#000" stroke="#000" stroke-width="0.2">4.5</text>
<text x="546.10" y="492.30" font-family='"Liberation Sans", "Noto Sans CJK SC", sans-serif' font-size="10.8" textLength="16.10" lengthAdjust="spacingAndGlyphs" fill="#000" stroke="#000" stroke-width="0.2">4.0</text>
<text x="546.10" y="518.40" font-family='"Liberation Sans", "Noto Sans CJK SC", sans-serif' font-size="10.8" textLength="16.10" lengthAdjust="spacingAndGlyphs" fill="#000" stroke="#000" stroke-width="0.2">3.5</text>
<text x="546.10" y="545.40" font-family='"Liberation Sans", "Noto Sans CJK SC", sans-serif' font-size="10.8" textLength="16.10" lengthAdjust="spacingAndGlyphs" fill="#000" stroke="#000" stroke-width="0.2">3.0</text>
<text x="546.10" y="572.50" font-family='"Liberation Sans", "Noto Sans CJK SC", sans-serif' font-size="10.8" textLength="16.10" lengthAdjust="spacingAndGlyphs" fill="#000" stroke="#000" stroke-width="0.2">2.5</text>
<text x="546.10" y="599.40" font-family='"Liberation Sans", "Noto Sans CJK SC", sans-serif' font-size="10.8" textLength="16.10" lengthAdjust="spacingAndGlyphs" fill="#000" stroke="#000" stroke-width="0.2">2.0</text>
<text x="558.75" y="634.20" font-family='"Liberation Sans", "Noto Sans CJK SC", sans-serif' font-size="12.2" textLength="19.30" lengthAdjust="spacingAndGlyphs" fill="#000">250</text>
<text x="646.50" y="634.20" font-family='"Liberation Sans", "Noto Sans CJK SC", sans-serif' font-size="12.2" textLength="19.30" lengthAdjust="spacingAndGlyphs" fill="#000">350</text>
<text x="735.60" y="634.20" font-family='"Liberation Sans", "Noto Sans CJK SC", sans-serif' font-size="12.2" textLength="19.30" lengthAdjust="spacingAndGlyphs" fill="#000">450</text>
<text x="824.50" y="634.20" font-family='"Liberation Sans", "Noto Sans CJK SC", sans-serif' font-size="12.2" textLength="19.30" lengthAdjust="spacingAndGlyphs" fill="#000">550</text>
<text x="912.50" y="634.20" font-family='"Liberation Sans", "Noto Sans CJK SC", sans-serif' font-size="12.2" textLength="19.30" lengthAdjust="spacingAndGlyphs" fill="#000">650</text>
<text x="950.60" y="635.60" font-family='"Liberation Sans", "Noto Sans CJK SC", sans-serif' font-size="12.4" textLength="26.40" lengthAdjust="spacingAndGlyphs" fill="#000">[L/s]</text>
<text x="972.40" y="432.40" font-family='"Liberation Sans", "Noto Sans CJK SC", sans-serif' font-size="12.4" textLength="6.10" lengthAdjust="spacingAndGlyphs" fill="#000">E</text>
<text x="966.20" y="445.40" font-family='"Liberation Sans", "Noto Sans CJK SC", sans-serif' font-size="11" textLength="17.50" lengthAdjust="spacingAndGlyphs" fill="#000">(%)</text>
<text x="732.10" y="365.60" font-family='"Liberation Sans", "Noto Sans CJK SC", sans-serif' font-size="9.2" textLength="23.50" lengthAdjust="spacingAndGlyphs" fill="#000" stroke="#000" stroke-width="0.2">74.1%</text>
<text x="747.60" y="378.60" font-family='"Liberation Sans", "Noto Sans CJK SC", sans-serif' font-size="9.2" textLength="23.90" lengthAdjust="spacingAndGlyphs" fill="#000" stroke="#000" stroke-width="0.2">76.7%</text>
<text x="763.60" y="390.60" font-family='"Liberation Sans", "Noto Sans CJK SC", sans-serif' font-size="9.2" textLength="16.90" lengthAdjust="spacingAndGlyphs" fill="#000" stroke="#000" stroke-width="0.2">79%</text>
<text x="775.60" y="399.40" font-family='"Liberation Sans", "Noto Sans CJK SC", sans-serif' font-size="9.2" textLength="23.90" lengthAdjust="spacingAndGlyphs" fill="#000" stroke="#000" stroke-width="0.2">80.3%</text>
<text x="838.35" y="457.60" font-family='"Liberation Sans", "Noto Sans CJK SC", sans-serif' font-size="9.2" textLength="24.90" lengthAdjust="spacingAndGlyphs" fill="#000" stroke="#000" stroke-width="0.2">80.3%</text>
<text x="860.20" y="477.60" font-family='"Liberation Sans", "Noto Sans CJK SC", sans-serif' font-size="9.2" textLength="16.30" lengthAdjust="spacingAndGlyphs" fill="#000" stroke="#000" stroke-width="0.2">79%</text>
<text x="872.60" y="498.80" font-family='"Liberation Sans", "Noto Sans CJK SC", sans-serif' font-size="9.2" textLength="24.90" lengthAdjust="spacingAndGlyphs" fill="#000" stroke="#000" stroke-width="0.2">76.7%</text>
<text x="884.85" y="510.70" font-family='"Liberation Sans", "Noto Sans CJK SC", sans-serif' font-size="9.2" textLength="23.70" lengthAdjust="spacingAndGlyphs" fill="#000" stroke="#000" stroke-width="0.2">74.1%</text>
<text x="901.60" y="532.20" font-family='"Liberation Sans", "Noto Sans CJK SC", sans-serif' font-size="9.2" textLength="16.90" lengthAdjust="spacingAndGlyphs" fill="#000" stroke="#000" stroke-width="0.2">70%</text>
<text font-family='"Liberation Sans", "Noto Sans CJK SC", sans-serif' font-size="8.8" fill="#000" stroke="#000" stroke-width="0.25"><tspan x="785.00" y="610.40" font-size="8.8">-</tspan><tspan x="789.20" y="610.40" font-size="8.8">6</tspan><tspan x="795.40" y="611.37" font-size="8.8">°</tspan></text>
<text font-family='"Liberation Sans", "Noto Sans CJK SC", sans-serif' font-size="8.8" fill="#000" stroke="#000" stroke-width="0.25"><tspan x="816.70" y="607.70" font-size="8.8">-</tspan><tspan x="820.90" y="607.70" font-size="8.8">4</tspan><tspan x="827.10" y="608.67" font-size="8.8">°</tspan></text>
<text font-family='"Liberation Sans", "Noto Sans CJK SC", sans-serif' font-size="8.8" fill="#000" stroke="#000" stroke-width="0.25"><tspan x="852.10" y="604.00" font-size="8.8">-</tspan><tspan x="856.30" y="604.00" font-size="8.8">2</tspan><tspan x="862.50" y="604.97" font-size="8.8">°</tspan></text>
<text font-family='"Liberation Sans", "Noto Sans CJK SC", sans-serif' font-size="8.8" fill="#000" stroke="#000" stroke-width="0.25"><tspan x="878.90" y="602.30" font-size="8.8">0</tspan><tspan x="884.10" y="603.27" font-size="8.8">°</tspan></text>
<text font-family='"Liberation Sans", "Noto Sans CJK SC", sans-serif' font-size="8.8" fill="#000" stroke="#000" stroke-width="0.25"><tspan x="900.90" y="583.83" font-size="5.46">+</tspan><tspan x="906.30" y="584.80" font-size="8.8">2</tspan><tspan x="912.10" y="585.77" font-size="8.8">°</tspan></text>
<text font-family='"Liberation Sans", "Noto Sans CJK SC", sans-serif' font-size="8.8" fill="#000" stroke="#000" stroke-width="0.25"><tspan x="923.90" y="579.73" font-size="5.46">+</tspan><tspan x="929.30" y="580.70" font-size="8.8">4</tspan><tspan x="935.30" y="581.67" font-size="8.8">°</tspan></text>
</g>
</svg></body></html>
